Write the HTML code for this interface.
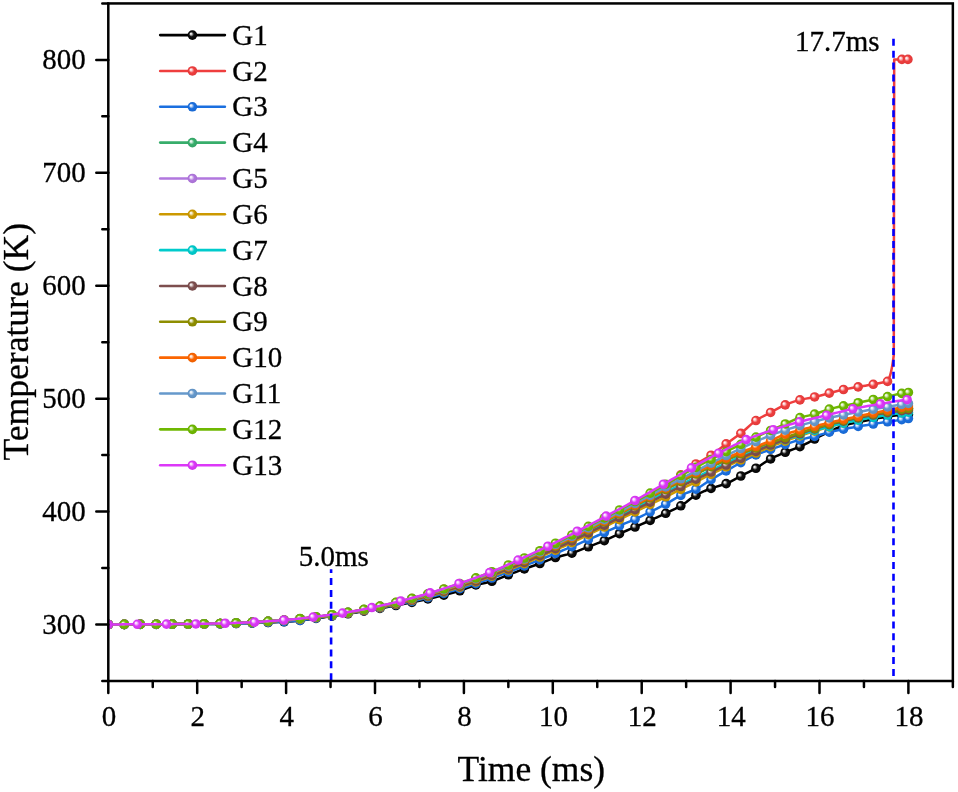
<!DOCTYPE html><html><head><meta charset="utf-8"><style>html,body{margin:0;padding:0;background:#fff;}svg{display:block;will-change:transform;}text{font-family:"Liberation Serif","Times New Roman",serif;fill:#000;stroke:#000;stroke-width:0.3px;}</style></head><body>
<svg width="958" height="792" viewBox="0 0 958 792">
<defs>
<radialGradient id="gG1" cx="0.5" cy="0.5" r="0.5" fx="0.32" fy="0.34"><stop offset="0" stop-color="#ffffff"/><stop offset="0.15" stop-color="#e0e0e0"/><stop offset="0.5" stop-color="#111"/><stop offset="1" stop-color="#000"/></radialGradient>
<circle id="mG1" r="4.8" fill="url(#gG1)"/>
<radialGradient id="gG2" cx="0.5" cy="0.5" r="0.5" fx="0.32" fy="0.34"><stop offset="0" stop-color="#ffffff"/><stop offset="0.2" stop-color="#fbd8d8"/><stop offset="0.55" stop-color="#EF3E3E"/><stop offset="1" stop-color="#e03a3a"/></radialGradient>
<circle id="mG2" r="4.8" fill="url(#gG2)"/>
<radialGradient id="gG3" cx="0.5" cy="0.5" r="0.5" fx="0.32" fy="0.34"><stop offset="0" stop-color="#ffffff"/><stop offset="0.2" stop-color="#d1e2f8"/><stop offset="0.55" stop-color="#1A6FDF"/><stop offset="1" stop-color="#1868d1"/></radialGradient>
<circle id="mG3" r="4.8" fill="url(#gG3)"/>
<radialGradient id="gG4" cx="0.5" cy="0.5" r="0.5" fx="0.32" fy="0.34"><stop offset="0" stop-color="#ffffff"/><stop offset="0.2" stop-color="#d7eee1"/><stop offset="0.55" stop-color="#37AD6B"/><stop offset="1" stop-color="#33a264"/></radialGradient>
<circle id="mG4" r="4.8" fill="url(#gG4)"/>
<radialGradient id="gG5" cx="0.5" cy="0.5" r="0.5" fx="0.32" fy="0.34"><stop offset="0" stop-color="#ffffff"/><stop offset="0.2" stop-color="#efe3f8"/><stop offset="0.55" stop-color="#B177DE"/><stop offset="1" stop-color="#a66fd0"/></radialGradient>
<circle id="mG5" r="4.8" fill="url(#gG5)"/>
<radialGradient id="gG6" cx="0.5" cy="0.5" r="0.5" fx="0.32" fy="0.34"><stop offset="0" stop-color="#ffffff"/><stop offset="0.2" stop-color="#f4eacc"/><stop offset="0.55" stop-color="#CC9900"/><stop offset="1" stop-color="#bf8f00"/></radialGradient>
<circle id="mG6" r="4.8" fill="url(#gG6)"/>
<radialGradient id="gG7" cx="0.5" cy="0.5" r="0.5" fx="0.32" fy="0.34"><stop offset="0" stop-color="#ffffff"/><stop offset="0.2" stop-color="#ccf4f4"/><stop offset="0.55" stop-color="#00CBCC"/><stop offset="1" stop-color="#00bebf"/></radialGradient>
<circle id="mG7" r="4.8" fill="url(#gG7)"/>
<radialGradient id="gG8" cx="0.5" cy="0.5" r="0.5" fx="0.32" fy="0.34"><stop offset="0" stop-color="#ffffff"/><stop offset="0.2" stop-color="#e5dbdb"/><stop offset="0.55" stop-color="#7D4E4E"/><stop offset="1" stop-color="#754949"/></radialGradient>
<circle id="mG8" r="4.8" fill="url(#gG8)"/>
<radialGradient id="gG9" cx="0.5" cy="0.5" r="0.5" fx="0.32" fy="0.34"><stop offset="0" stop-color="#ffffff"/><stop offset="0.2" stop-color="#e8e8cc"/><stop offset="0.55" stop-color="#8E8E00"/><stop offset="1" stop-color="#858500"/></radialGradient>
<circle id="mG9" r="4.8" fill="url(#gG9)"/>
<radialGradient id="gG10" cx="0.5" cy="0.5" r="0.5" fx="0.32" fy="0.34"><stop offset="0" stop-color="#ffffff"/><stop offset="0.2" stop-color="#fee0cc"/><stop offset="0.55" stop-color="#FB6501"/><stop offset="1" stop-color="#eb5e00"/></radialGradient>
<circle id="mG10" r="4.8" fill="url(#gG10)"/>
<radialGradient id="gG11" cx="0.5" cy="0.5" r="0.5" fx="0.32" fy="0.34"><stop offset="0" stop-color="#ffffff"/><stop offset="0.2" stop-color="#e0eaf4"/><stop offset="0.55" stop-color="#6699CC"/><stop offset="1" stop-color="#5f8fbf"/></radialGradient>
<circle id="mG11" r="4.8" fill="url(#gG11)"/>
<radialGradient id="gG12" cx="0.5" cy="0.5" r="0.5" fx="0.32" fy="0.34"><stop offset="0" stop-color="#ffffff"/><stop offset="0.2" stop-color="#e2f0cc"/><stop offset="0.55" stop-color="#6FB802"/><stop offset="1" stop-color="#68ac01"/></radialGradient>
<circle id="mG12" r="4.8" fill="url(#gG12)"/>
<radialGradient id="gG13" cx="0.5" cy="0.5" r="0.5" fx="0.32" fy="0.34"><stop offset="0" stop-color="#ffffff"/><stop offset="0.2" stop-color="#f8d7fd"/><stop offset="0.55" stop-color="#DC38F8"/><stop offset="1" stop-color="#ce34e9"/></radialGradient>
<circle id="mG13" r="4.8" fill="url(#gG13)"/>
<clipPath id="pc"><rect x="108.3" y="3.4" width="844.6" height="677.6"/></clipPath>
</defs>
<rect width="958" height="792" fill="#fff"/>
<g clip-path="url(#pc)" fill="none" stroke-width="2.5" stroke-linejoin="round">
<path stroke="#000000" d="M108.3 624.5 L112 624.5 L115.71 624.5 L119.41 624.49 L123.12 624.49 L126.82 624.48 L130.53 624.48 L134.23 624.47 L137.93 624.46 L141.64 624.45 L145.34 624.43 L149.05 624.42 L152.75 624.41 L156.45 624.39 L160.16 624.37 L163.86 624.36 L167.57 624.34 L171.27 624.32 L174.98 624.3 L178.68 624.28 L182.38 624.26 L186.09 624.23 L189.79 624.21 L193.5 624.19 L197.2 624.16 L200.9 624.13 L204.61 624.09 L208.31 624.05 L212.02 623.99 L215.72 623.93 L219.43 623.86 L223.13 623.79 L226.83 623.71 L230.54 623.63 L234.24 623.55 L237.95 623.46 L241.65 623.37 L245.35 623.28 L249.06 623.18 L252.76 623.07 L256.47 622.96 L260.17 622.84 L263.88 622.71 L267.58 622.57 L271.28 622.42 L274.99 622.25 L278.69 622.07 L282.4 621.88 L286.1 621.68 L289.8 621.43 L293.51 621.13 L297.21 620.77 L300.92 620.37 L304.62 619.93 L308.32 619.46 L312.03 618.97 L315.73 618.46 L319.44 617.93 L323.14 617.41 L326.85 616.88 L330.55 616.37 L334.25 615.85 L337.96 615.32 L341.66 614.77 L345.37 614.2 L349.07 613.61 L352.78 613.02 L356.48 612.41 L360.18 611.8 L363.89 611.17 L367.59 610.54 L371.3 609.9 L375 609.26 L378.7 608.61 L382.41 607.96 L386.11 607.3 L389.82 606.63 L393.52 605.95 L397.23 605.26 L400.93 604.55 L404.63 603.83 L408.34 603.1 L412.04 602.35 L415.75 601.58 L419.45 600.79 L423.15 599.98 L426.86 599.17 L430.56 598.33 L434.27 597.48 L437.97 596.61 L441.68 595.71 L445.38 594.77 L449.08 593.8 L452.79 592.8 L456.49 591.74 L460.2 590.65 L463.9 589.37 L467.6 587.94 L471.31 586.51 L475.01 585.24 L478.72 584.25 L482.42 583.44 L486.13 582.67 L489.83 581.82 L493.53 580.74 L497.24 579.39 L500.94 577.87 L504.65 576.3 L508.35 574.82 L512.05 573.42 L515.76 572.05 L519.46 570.7 L523.17 569.37 L526.87 568.06 L530.58 566.78 L534.28 565.51 L537.98 564.22 L541.69 562.85 L545.39 561.37 L549.1 559.87 L552.8 558.45 L556.5 557.22 L560.21 556.2 L563.91 555.28 L567.62 554.36 L571.32 553.32 L575.02 552.08 L578.73 550.68 L582.43 549.19 L586.14 547.69 L589.84 546.24 L593.55 544.84 L597.25 543.43 L600.95 541.99 L604.66 540.48 L608.36 538.84 L612.07 537.13 L615.77 535.4 L619.48 533.71 L623.18 532.1 L626.88 530.52 L630.59 528.96 L634.29 527.37 L638 525.76 L641.7 524.14 L645.4 522.5 L649.11 520.85 L652.81 519.19 L656.52 517.53 L660.22 515.84 L663.92 514.12 L667.63 512.36 L671.33 510.62 L675.04 508.84 L678.74 506.93 L682.45 504.8 L686.15 502.18 L689.85 499.3 L693.56 496.61 L697.26 494.47 L700.97 492.63 L704.67 490.97 L708.38 489.45 L712.08 488.06 L715.78 486.87 L719.49 485.79 L723.19 484.65 L726.9 483.27 L730.6 481.54 L734.3 479.56 L738.01 477.51 L741.71 475.55 L745.42 473.7 L749.12 471.86 L752.83 469.95 L756.53 467.91 L760.23 465.57 L763.94 463.03 L767.64 460.61 L771.35 458.55 L775.05 456.72 L778.75 455.03 L782.46 453.44 L786.16 451.89 L789.87 450.46 L793.57 449.13 L797.27 447.77 L800.98 446.25 L804.68 444.48 L808.39 442.52 L812.09 440.47 L815.8 438.43 L819.5 436.49 L823.2 434.61 L826.91 432.72 L830.61 430.9 L834.32 429.22 L838.02 427.74 L841.73 426.41 L845.43 425.2 L849.13 424.11 L852.84 423.19 L856.54 422.4 L860.25 421.7 L863.95 421.02 L867.65 420.3 L871.36 419.56 L875.06 418.83 L878.77 418.14 L882.47 417.5 L886.17 416.87 L889.88 416.28 L893.58 415.77 L897.29 415.36 L900.99 415 L904.7 414.7 L908.4 414.47"/>
<use href="#mG1" x="108.3" y="624.5"/><use href="#mG1" x="124.28" y="624.49"/><use href="#mG1" x="140.26" y="624.45"/><use href="#mG1" x="156.24" y="624.39"/><use href="#mG1" x="172.22" y="624.31"/><use href="#mG1" x="188.2" y="624.22"/><use href="#mG1" x="204.18" y="624.1"/><use href="#mG1" x="220.16" y="623.85"/><use href="#mG1" x="236.14" y="623.5"/><use href="#mG1" x="252.12" y="623.09"/><use href="#mG1" x="268.1" y="622.55"/><use href="#mG1" x="284.08" y="621.79"/><use href="#mG1" x="300.06" y="620.47"/><use href="#mG1" x="316.04" y="618.41"/><use href="#mG1" x="332.02" y="616.17"/><use href="#mG1" x="348" y="613.79"/><use href="#mG1" x="363.98" y="611.15"/><use href="#mG1" x="379.96" y="608.39"/><use href="#mG1" x="395.94" y="605.5"/><use href="#mG1" x="411.92" y="602.37"/><use href="#mG1" x="427.9" y="598.93"/><use href="#mG1" x="443.88" y="595.15"/><use href="#mG1" x="459.86" y="590.75"/><use href="#mG1" x="475.9" y="584.98"/><use href="#mG1" x="491.9" y="581.25"/><use href="#mG1" x="508.35" y="574.82"/><use href="#mG1" x="524.35" y="568.94"/><use href="#mG1" x="539.91" y="563.52"/><use href="#mG1" x="555.47" y="557.54"/><use href="#mG1" x="571.91" y="553.13"/><use href="#mG1" x="588.36" y="546.81"/><use href="#mG1" x="604.36" y="540.6"/><use href="#mG1" x="619.48" y="533.71"/><use href="#mG1" x="635.03" y="527.05"/><use href="#mG1" x="650.15" y="520.39"/><use href="#mG1" x="665.7" y="513.27"/><use href="#mG1" x="680.82" y="505.77"/><use href="#mG1" x="695.93" y="495.19"/><use href="#mG1" x="711.04" y="488.43"/><use href="#mG1" x="726.15" y="483.58"/><use href="#mG1" x="740.82" y="476.01"/><use href="#mG1" x="755.94" y="468.25"/><use href="#mG1" x="770.61" y="458.94"/><use href="#mG1" x="785.27" y="452.26"/><use href="#mG1" x="799.94" y="446.7"/><use href="#mG1" x="814.61" y="439.07"/><use href="#mG1" x="829.28" y="431.55"/><use href="#mG1" x="843.5" y="425.81"/><use href="#mG1" x="858.17" y="422.09"/><use href="#mG1" x="873.28" y="419.18"/><use href="#mG1" x="887.51" y="416.65"/><use href="#mG1" x="901.73" y="414.94"/><use href="#mG1" x="908.4" y="414.47"/>
<path stroke="#EF3E3E" d="M108.3 624.5 L112.01 624.48 L115.72 624.45 L119.43 624.43 L123.14 624.41 L126.85 624.39 L130.56 624.36 L134.27 624.34 L137.98 624.32 L141.69 624.29 L145.41 624.27 L149.12 624.24 L152.83 624.22 L156.54 624.2 L160.25 624.18 L163.96 624.16 L167.67 624.14 L171.38 624.12 L175.09 624.1 L178.8 624.08 L182.51 624.05 L186.22 624.03 L189.93 624 L193.64 623.97 L197.35 623.93 L201.06 623.88 L204.77 623.83 L208.48 623.75 L212.19 623.67 L215.9 623.58 L219.62 623.48 L223.33 623.37 L227.04 623.25 L230.75 623.13 L234.46 623 L238.17 622.87 L241.88 622.73 L245.59 622.58 L249.3 622.42 L253.01 622.23 L256.72 622.03 L260.43 621.82 L264.14 621.59 L267.85 621.35 L271.56 621.1 L275.27 620.83 L278.98 620.56 L282.69 620.27 L286.4 619.98 L290.12 619.68 L293.83 619.35 L297.54 618.99 L301.25 618.62 L304.96 618.23 L308.67 617.82 L312.38 617.39 L316.09 616.94 L319.8 616.48 L323.51 616.01 L327.22 615.52 L330.93 615.02 L334.64 614.5 L338.35 613.94 L342.06 613.36 L345.77 612.76 L349.48 612.13 L353.19 611.48 L356.9 610.81 L360.62 610.12 L364.33 609.41 L368.04 608.69 L371.75 607.96 L375.46 607.21 L379.17 606.44 L382.88 605.65 L386.59 604.83 L390.3 603.99 L394.01 603.12 L397.72 602.23 L401.43 601.32 L405.14 600.39 L408.85 599.44 L412.56 598.47 L416.27 597.49 L419.98 596.49 L423.69 595.46 L427.4 594.41 L431.11 593.33 L434.83 592.22 L438.54 591.09 L442.25 589.93 L445.96 588.75 L449.67 587.56 L453.38 586.34 L457.09 585.1 L460.8 583.85 L464.51 582.58 L468.22 581.29 L471.93 579.97 L475.64 578.63 L479.35 577.26 L483.06 575.86 L486.77 574.45 L490.48 573.01 L494.19 571.55 L497.9 570.07 L501.61 568.57 L505.33 567.05 L509.04 565.52 L512.75 563.96 L516.46 562.36 L520.17 560.74 L523.88 559.1 L527.59 557.43 L531.3 555.73 L535.01 554.02 L538.72 552.29 L542.43 550.55 L546.14 548.8 L549.85 547.03 L553.56 545.25 L557.27 543.46 L560.98 541.64 L564.69 539.79 L568.4 537.93 L572.11 536.05 L575.83 534.16 L579.54 532.25 L583.25 530.34 L586.96 528.42 L590.67 526.5 L594.38 524.58 L598.09 522.66 L601.8 520.74 L605.51 518.82 L609.22 516.91 L612.93 514.98 L616.64 513.06 L620.35 511.12 L624.06 509.16 L627.77 507.19 L631.48 505.2 L635.19 503.19 L638.9 501.15 L642.61 499.09 L646.32 497.01 L650.04 494.92 L653.75 492.8 L657.46 490.64 L661.17 488.43 L664.88 486.14 L668.59 483.77 L672.3 481.24 L676.01 478.54 L679.72 475.74 L683.43 472.91 L687.14 470.1 L690.85 467.4 L694.56 464.86 L698.27 462.57 L701.98 460.49 L705.69 458.44 L709.4 456.28 L713.11 453.82 L716.82 451.06 L720.54 448.15 L724.25 445.26 L727.96 442.52 L731.67 439.92 L735.38 437.33 L739.09 434.64 L742.8 431.73 L746.51 428.46 L750.22 425.11 L753.93 422 L757.64 419.42 L761.35 417.25 L765.06 415.29 L768.77 413.39 L772.48 411.42 L776.19 409.38 L779.9 407.39 L783.61 405.58 L787.32 404.05 L791.04 402.65 L794.75 401.39 L798.46 400.29 L802.17 399.38 L805.88 398.64 L809.59 397.97 L813.3 397.25 L817.01 396.4 L820.72 395.43 L824.43 394.43 L828.14 393.42 L831.85 392.45 L835.56 391.45 L839.27 390.49 L842.98 389.62 L846.69 388.89 L850.4 388.23 L854.11 387.6 L857.82 386.98 L861.53 386.34 L865.25 385.72 L868.96 385.1 L872.67 384.43 L876.38 383.73 L880.09 382.98 L883.8 382.2 L887.51 381.38 C889.73 378.33 891.95 370.43 893.8 355 L894.2 59.5 L907.9 59.4"/>
<use href="#mG2" x="108.3" y="624.5"/><use href="#mG2" x="124.28" y="624.4"/><use href="#mG2" x="140.26" y="624.3"/><use href="#mG2" x="156.24" y="624.2"/><use href="#mG2" x="172.22" y="624.11"/><use href="#mG2" x="188.2" y="624.01"/><use href="#mG2" x="204.18" y="623.84"/><use href="#mG2" x="220.16" y="623.46"/><use href="#mG2" x="236.14" y="622.94"/><use href="#mG2" x="252.12" y="622.28"/><use href="#mG2" x="268.1" y="621.33"/><use href="#mG2" x="284.08" y="620.17"/><use href="#mG2" x="300.06" y="618.74"/><use href="#mG2" x="316.04" y="616.95"/><use href="#mG2" x="332.02" y="614.87"/><use href="#mG2" x="348" y="612.39"/><use href="#mG2" x="363.98" y="609.48"/><use href="#mG2" x="379.96" y="606.28"/><use href="#mG2" x="395.94" y="602.66"/><use href="#mG2" x="411.92" y="598.64"/><use href="#mG2" x="427.9" y="594.27"/><use href="#mG2" x="443.88" y="589.42"/><use href="#mG2" x="459.86" y="584.17"/><use href="#mG2" x="475.9" y="578.53"/><use href="#mG2" x="491.9" y="572.45"/><use href="#mG2" x="508.35" y="565.8"/><use href="#mG2" x="524.35" y="558.88"/><use href="#mG2" x="539.91" y="551.74"/><use href="#mG2" x="555.47" y="544.33"/><use href="#mG2" x="571.91" y="536.15"/><use href="#mG2" x="588.36" y="527.69"/><use href="#mG2" x="604.36" y="519.41"/><use href="#mG2" x="619.48" y="511.58"/><use href="#mG2" x="635.03" y="503.28"/><use href="#mG2" x="650.15" y="494.86"/><use href="#mG2" x="665.7" y="485.62"/><use href="#mG2" x="680.82" y="474.9"/><use href="#mG2" x="695.93" y="463.99"/><use href="#mG2" x="711.04" y="455.23"/><use href="#mG2" x="726.15" y="443.83"/><use href="#mG2" x="740.82" y="433.33"/><use href="#mG2" x="755.94" y="420.53"/><use href="#mG2" x="770.61" y="412.44"/><use href="#mG2" x="785.27" y="404.87"/><use href="#mG2" x="799.94" y="399.9"/><use href="#mG2" x="814.61" y="396.97"/><use href="#mG2" x="829.28" y="393.13"/><use href="#mG2" x="843.5" y="389.51"/><use href="#mG2" x="858.17" y="386.92"/><use href="#mG2" x="873.28" y="384.32"/><use href="#mG2" x="887.51" y="381.38"/><use href="#mG2" x="901.9" y="59.4"/><use href="#mG2" x="907.9" y="59.4"/>
<path stroke="#1A6FDF" d="M108.3 624.5 L112 624.5 L115.71 624.5 L119.41 624.49 L123.12 624.49 L126.82 624.48 L130.53 624.48 L134.23 624.47 L137.93 624.46 L141.64 624.45 L145.34 624.43 L149.05 624.42 L152.75 624.41 L156.45 624.39 L160.16 624.37 L163.86 624.36 L167.57 624.34 L171.27 624.32 L174.98 624.3 L178.68 624.28 L182.38 624.26 L186.09 624.23 L189.79 624.21 L193.5 624.19 L197.2 624.16 L200.9 624.13 L204.61 624.1 L208.31 624.05 L212.02 624 L215.72 623.95 L219.43 623.88 L223.13 623.81 L226.83 623.73 L230.54 623.65 L234.24 623.56 L237.95 623.46 L241.65 623.35 L245.35 623.24 L249.06 623.12 L252.76 622.99 L256.47 622.86 L260.17 622.72 L263.88 622.58 L267.58 622.42 L271.28 622.27 L274.99 622.1 L278.69 621.93 L282.4 621.75 L286.1 621.56 L289.8 621.34 L293.51 621.04 L297.21 620.68 L300.92 620.26 L304.62 619.8 L308.32 619.3 L312.03 618.78 L315.73 618.23 L319.44 617.68 L323.14 617.12 L326.85 616.57 L330.55 616.03 L334.25 615.5 L337.96 614.94 L341.66 614.38 L345.37 613.79 L349.07 613.2 L352.78 612.58 L356.48 611.96 L360.18 611.33 L363.89 610.68 L367.59 610.03 L371.3 609.36 L375 608.69 L378.7 608.01 L382.41 607.32 L386.11 606.63 L389.82 605.92 L393.52 605.2 L397.23 604.46 L400.93 603.71 L404.63 602.94 L408.34 602.15 L412.04 601.34 L415.75 600.51 L419.45 599.66 L423.15 598.78 L426.86 597.87 L430.56 596.93 L434.27 595.97 L437.97 594.98 L441.68 593.97 L445.38 592.93 L449.08 591.88 L452.79 590.8 L456.49 589.7 L460.2 588.59 L463.9 587.46 L467.6 586.31 L471.31 585.12 L475.01 583.9 L478.72 582.65 L482.42 581.37 L486.13 580.08 L489.83 578.76 L493.53 577.43 L497.24 576.08 L500.94 574.72 L504.65 573.36 L508.35 571.99 L512.05 570.61 L515.76 569.21 L519.46 567.79 L523.17 566.36 L526.87 564.91 L530.58 563.44 L534.28 561.97 L537.98 560.48 L541.69 558.99 L545.39 557.49 L549.1 555.99 L552.8 554.49 L556.5 552.98 L560.21 551.47 L563.91 549.95 L567.62 548.43 L571.32 546.89 L575.02 545.34 L578.73 543.78 L582.43 542.21 L586.14 540.63 L589.84 539.03 L593.55 537.41 L597.25 535.76 L600.95 534.08 L604.66 532.4 L608.36 530.71 L612.07 529.03 L615.77 527.38 L619.48 525.76 L623.18 524.2 L626.88 522.67 L630.59 521.12 L634.29 519.5 L638 517.81 L641.7 516.05 L645.4 514.25 L649.11 512.43 L652.81 510.63 L656.52 508.81 L660.22 506.97 L663.92 505.06 L667.63 503.03 L671.33 500.83 L675.04 498.59 L678.74 496.49 L682.45 494.68 L686.15 493.16 L689.85 491.73 L693.56 490.22 L697.26 488.41 L700.97 486.22 L704.67 483.81 L708.38 481.36 L712.08 479.04 L715.78 476.85 L719.49 474.69 L723.19 472.56 L726.9 470.45 L730.6 468.33 L734.3 466.22 L738.01 464.14 L741.71 462.13 L745.42 460.17 L749.12 458.22 L752.83 456.37 L756.53 454.68 L760.23 453.18 L763.94 451.82 L767.64 450.52 L771.35 449.21 L775.05 447.9 L778.75 446.6 L782.46 445.34 L786.16 444.1 L789.87 442.85 L793.57 441.64 L797.27 440.5 L800.98 439.49 L804.68 438.63 L808.39 437.82 L812.09 436.99 L815.8 436.06 L819.5 434.98 L823.2 433.87 L826.91 432.81 L830.61 431.88 L834.32 431.04 L838.02 430.25 L841.73 429.5 L845.43 428.77 L849.13 428.08 L852.84 427.41 L856.54 426.76 L860.25 426.12 L863.95 425.51 L867.65 424.9 L871.36 424.31 L875.06 423.71 L878.77 423.11 L882.47 422.52 L886.17 421.94 L889.88 421.4 L893.58 420.89 L897.29 420.37 L900.99 419.82 L904.7 419.2 L908.4 418.53"/>
<use href="#mG3" x="108.3" y="624.5"/><use href="#mG3" x="124.28" y="624.49"/><use href="#mG3" x="140.26" y="624.45"/><use href="#mG3" x="156.24" y="624.39"/><use href="#mG3" x="172.22" y="624.31"/><use href="#mG3" x="188.2" y="624.22"/><use href="#mG3" x="204.18" y="624.1"/><use href="#mG3" x="220.16" y="623.87"/><use href="#mG3" x="236.14" y="623.51"/><use href="#mG3" x="252.12" y="623.02"/><use href="#mG3" x="268.1" y="622.4"/><use href="#mG3" x="284.08" y="621.67"/><use href="#mG3" x="300.06" y="620.36"/><use href="#mG3" x="316.04" y="618.19"/><use href="#mG3" x="332.02" y="615.82"/><use href="#mG3" x="348" y="613.37"/><use href="#mG3" x="363.98" y="610.67"/><use href="#mG3" x="379.96" y="607.78"/><use href="#mG3" x="395.94" y="604.72"/><use href="#mG3" x="411.92" y="601.37"/><use href="#mG3" x="427.9" y="597.61"/><use href="#mG3" x="443.88" y="593.36"/><use href="#mG3" x="459.86" y="588.69"/><use href="#mG3" x="475.9" y="583.6"/><use href="#mG3" x="491.9" y="578.01"/><use href="#mG3" x="508.35" y="571.99"/><use href="#mG3" x="524.35" y="565.89"/><use href="#mG3" x="539.91" y="559.71"/><use href="#mG3" x="555.47" y="553.41"/><use href="#mG3" x="571.91" y="546.64"/><use href="#mG3" x="588.36" y="539.68"/><use href="#mG3" x="604.36" y="532.53"/><use href="#mG3" x="619.48" y="525.76"/><use href="#mG3" x="635.03" y="519.17"/><use href="#mG3" x="650.15" y="511.93"/><use href="#mG3" x="665.7" y="504.11"/><use href="#mG3" x="680.82" y="495.43"/><use href="#mG3" x="695.93" y="489.11"/><use href="#mG3" x="711.04" y="479.67"/><use href="#mG3" x="726.15" y="470.87"/><use href="#mG3" x="740.82" y="462.61"/><use href="#mG3" x="755.94" y="454.94"/><use href="#mG3" x="770.61" y="449.47"/><use href="#mG3" x="785.27" y="444.39"/><use href="#mG3" x="799.94" y="439.76"/><use href="#mG3" x="814.61" y="436.37"/><use href="#mG3" x="829.28" y="432.2"/><use href="#mG3" x="843.5" y="429.15"/><use href="#mG3" x="858.17" y="426.47"/><use href="#mG3" x="873.28" y="424"/><use href="#mG3" x="887.51" y="421.74"/><use href="#mG3" x="901.73" y="419.7"/><use href="#mG3" x="908.4" y="418.53"/>
<path stroke="#37AD6B" d="M108.3 624.5 L112 624.48 L115.71 624.46 L119.41 624.43 L123.12 624.41 L126.82 624.39 L130.53 624.37 L134.23 624.34 L137.93 624.32 L141.64 624.3 L145.34 624.27 L149.05 624.25 L152.75 624.23 L156.45 624.21 L160.16 624.19 L163.86 624.17 L167.57 624.15 L171.27 624.13 L174.98 624.11 L178.68 624.09 L182.38 624.06 L186.09 624.04 L189.79 624.01 L193.5 623.98 L197.2 623.94 L200.9 623.9 L204.61 623.84 L208.31 623.77 L212.02 623.7 L215.72 623.61 L219.43 623.51 L223.13 623.4 L226.83 623.29 L230.54 623.17 L234.24 623.04 L237.95 622.91 L241.65 622.78 L245.35 622.64 L249.06 622.47 L252.76 622.3 L256.47 622.1 L260.17 621.89 L263.88 621.67 L267.58 621.44 L271.28 621.19 L274.99 620.93 L278.69 620.67 L282.4 620.39 L286.1 620.11 L289.8 619.81 L293.51 619.49 L297.21 619.15 L300.92 618.79 L304.62 618.4 L308.32 618 L312.03 617.59 L315.73 617.15 L319.44 616.71 L323.14 616.24 L326.85 615.77 L330.55 615.28 L334.25 614.78 L337.96 614.24 L341.66 613.68 L345.37 613.09 L349.07 612.48 L352.78 611.85 L356.48 611.2 L360.18 610.52 L363.89 609.84 L367.59 609.13 L371.3 608.42 L375 607.69 L378.7 606.95 L382.41 606.18 L386.11 605.38 L389.82 604.56 L393.52 603.72 L397.23 602.85 L400.93 601.97 L404.63 601.06 L408.34 600.14 L412.04 599.19 L415.75 598.24 L419.45 597.26 L423.15 596.27 L426.86 595.24 L430.56 594.19 L434.27 593.11 L437.97 592.01 L441.68 590.89 L445.38 589.74 L449.08 588.58 L452.79 587.39 L456.49 586.19 L460.2 584.97 L463.9 583.73 L467.6 582.48 L471.31 581.2 L475.01 579.89 L478.72 578.56 L482.42 577.2 L486.13 575.82 L489.83 574.42 L493.53 573 L497.24 571.56 L500.94 570.1 L504.65 568.62 L508.35 567.13 L512.05 565.61 L515.76 564.06 L519.46 562.49 L523.17 560.89 L526.87 559.26 L530.58 557.61 L534.28 555.95 L537.98 554.26 L541.69 552.56 L545.39 550.85 L549.1 549.13 L552.8 547.4 L556.5 545.65 L560.21 543.88 L563.91 542.09 L567.62 540.27 L571.32 538.44 L575.02 536.6 L578.73 534.74 L582.43 532.88 L586.14 531.01 L589.84 529.13 L593.55 527.26 L597.25 525.38 L600.95 523.5 L604.66 521.62 L608.36 519.72 L612.07 517.82 L615.77 515.91 L619.48 514 L623.18 512.08 L626.88 510.16 L630.59 508.23 L634.29 506.29 L638 504.36 L641.7 502.42 L645.4 500.47 L649.11 498.49 L652.81 496.49 L656.52 494.48 L660.22 492.46 L663.92 490.45 L667.63 488.45 L671.33 486.46 L675.04 484.5 L678.74 482.57 L682.45 480.68 L686.15 478.83 L689.85 477.02 L693.56 475.23 L697.26 473.45 L700.97 471.7 L704.67 469.96 L708.38 468.25 L712.08 466.56 L715.78 464.9 L719.49 463.26 L723.19 461.65 L726.9 460.06 L730.6 458.51 L734.3 456.98 L738.01 455.48 L741.71 454 L745.42 452.54 L749.12 451.11 L752.83 449.69 L756.53 448.3 L760.23 446.92 L763.94 445.56 L767.64 444.22 L771.35 442.89 L775.05 441.57 L778.75 440.26 L782.46 438.96 L786.16 437.66 L789.87 436.38 L793.57 435.11 L797.27 433.86 L800.98 432.63 L804.68 431.42 L808.39 430.24 L812.09 429.09 L815.8 427.97 L819.5 426.89 L823.2 425.83 L826.91 424.78 L830.61 423.75 L834.32 422.73 L838.02 421.73 L841.73 420.76 L845.43 419.81 L849.13 418.9 L852.84 418.02 L856.54 417.17 L860.25 416.36 L863.95 415.6 L867.65 414.86 L871.36 414.15 L875.06 413.45 L878.77 412.77 L882.47 412.12 L886.17 411.49 L889.88 410.88 L893.58 410.3 L897.29 409.74 L900.99 409.22 L904.7 408.72 L908.4 408.26"/>
<use href="#mG4" x="108.3" y="624.5"/><use href="#mG4" x="124.28" y="624.4"/><use href="#mG4" x="140.26" y="624.31"/><use href="#mG4" x="156.24" y="624.21"/><use href="#mG4" x="172.22" y="624.12"/><use href="#mG4" x="188.2" y="624.02"/><use href="#mG4" x="204.18" y="623.85"/><use href="#mG4" x="220.16" y="623.49"/><use href="#mG4" x="236.14" y="622.98"/><use href="#mG4" x="252.12" y="622.33"/><use href="#mG4" x="268.1" y="621.4"/><use href="#mG4" x="284.08" y="620.27"/><use href="#mG4" x="300.06" y="618.87"/><use href="#mG4" x="316.04" y="617.12"/><use href="#mG4" x="332.02" y="615.09"/><use href="#mG4" x="348" y="612.66"/><use href="#mG4" x="363.98" y="609.82"/><use href="#mG4" x="379.96" y="606.69"/><use href="#mG4" x="395.94" y="603.15"/><use href="#mG4" x="411.92" y="599.23"/><use href="#mG4" x="427.9" y="594.95"/><use href="#mG4" x="443.88" y="590.21"/><use href="#mG4" x="459.86" y="585.08"/><use href="#mG4" x="475.9" y="579.57"/><use href="#mG4" x="491.9" y="573.63"/><use href="#mG4" x="508.35" y="567.13"/><use href="#mG4" x="524.35" y="560.37"/><use href="#mG4" x="539.91" y="553.38"/><use href="#mG4" x="555.47" y="546.15"/><use href="#mG4" x="571.91" y="538.15"/><use href="#mG4" x="588.36" y="529.88"/><use href="#mG4" x="604.36" y="521.77"/><use href="#mG4" x="619.48" y="514"/><use href="#mG4" x="635.03" y="505.91"/><use href="#mG4" x="650.15" y="497.93"/><use href="#mG4" x="665.7" y="489.49"/><use href="#mG4" x="680.82" y="481.5"/><use href="#mG4" x="695.93" y="474.09"/><use href="#mG4" x="711.04" y="467.03"/><use href="#mG4" x="726.15" y="460.38"/><use href="#mG4" x="740.82" y="454.35"/><use href="#mG4" x="755.94" y="448.52"/><use href="#mG4" x="770.61" y="443.15"/><use href="#mG4" x="785.27" y="437.97"/><use href="#mG4" x="799.94" y="432.97"/><use href="#mG4" x="814.61" y="428.33"/><use href="#mG4" x="829.28" y="424.12"/><use href="#mG4" x="843.5" y="420.3"/><use href="#mG4" x="858.17" y="416.81"/><use href="#mG4" x="873.28" y="413.78"/><use href="#mG4" x="887.51" y="411.26"/><use href="#mG4" x="901.73" y="409.12"/><use href="#mG4" x="908.4" y="408.26"/>
<path stroke="#B177DE" d="M108.3 624.5 L112 624.48 L115.71 624.46 L119.41 624.43 L123.12 624.41 L126.82 624.39 L130.53 624.37 L134.23 624.34 L137.93 624.32 L141.64 624.3 L145.34 624.28 L149.05 624.25 L152.75 624.23 L156.45 624.21 L160.16 624.19 L163.86 624.17 L167.57 624.15 L171.27 624.13 L174.98 624.11 L178.68 624.09 L182.38 624.07 L186.09 624.05 L189.79 624.02 L193.5 623.99 L197.2 623.95 L200.9 623.91 L204.61 623.85 L208.31 623.78 L212.02 623.71 L215.72 623.62 L219.43 623.52 L223.13 623.42 L226.83 623.31 L230.54 623.19 L234.24 623.06 L237.95 622.94 L241.65 622.8 L245.35 622.66 L249.06 622.5 L252.76 622.33 L256.47 622.13 L260.17 621.93 L263.88 621.71 L267.58 621.48 L271.28 621.24 L274.99 620.98 L278.69 620.72 L282.4 620.45 L286.1 620.17 L289.8 619.88 L293.51 619.56 L297.21 619.22 L300.92 618.87 L304.62 618.49 L308.32 618.09 L312.03 617.68 L315.73 617.26 L319.44 616.81 L323.14 616.36 L326.85 615.89 L330.55 615.41 L334.25 614.91 L337.96 614.38 L341.66 613.83 L345.37 613.25 L349.07 612.65 L352.78 612.02 L356.48 611.38 L360.18 610.72 L363.89 610.04 L367.59 609.35 L371.3 608.64 L375 607.93 L378.7 607.19 L382.41 606.43 L386.11 605.64 L389.82 604.84 L393.52 604 L397.23 603.15 L400.93 602.28 L404.63 601.39 L408.34 600.47 L412.04 599.55 L415.75 598.6 L419.45 597.64 L423.15 596.66 L426.86 595.65 L430.56 594.61 L434.27 593.55 L437.97 592.46 L441.68 591.36 L445.38 590.23 L449.08 589.08 L452.79 587.91 L456.49 586.72 L460.2 585.52 L463.9 584.3 L467.6 583.06 L471.31 581.8 L475.01 580.51 L478.72 579.19 L482.42 577.86 L486.13 576.5 L489.83 575.12 L493.53 573.72 L497.24 572.3 L500.94 570.86 L504.65 569.4 L508.35 567.93 L512.05 566.43 L515.76 564.9 L519.46 563.35 L523.17 561.77 L526.87 560.16 L530.58 558.54 L534.28 556.9 L537.98 555.24 L541.69 553.56 L545.39 551.88 L549.1 550.18 L552.8 548.47 L556.5 546.75 L560.21 545 L563.91 543.23 L567.62 541.44 L571.32 539.64 L575.02 537.82 L578.73 535.99 L582.43 534.15 L586.14 532.3 L589.84 530.46 L593.55 528.6 L597.25 526.76 L600.95 524.9 L604.66 523.03 L608.36 521.14 L612.07 519.25 L615.77 517.35 L619.48 515.45 L623.18 513.54 L626.88 511.64 L630.59 509.74 L634.29 507.86 L638 505.98 L641.7 504.12 L645.4 502.26 L649.11 500.41 L652.81 498.57 L656.52 496.72 L660.22 494.89 L663.92 493.06 L667.63 491.23 L671.33 489.42 L675.04 487.6 L678.74 485.8 L682.45 484.01 L686.15 482.22 L689.85 480.44 L693.56 478.65 L697.26 476.87 L700.97 475.1 L704.67 473.33 L708.38 471.57 L712.08 469.82 L715.78 468.08 L719.49 466.36 L723.19 464.66 L726.9 462.98 L730.6 461.33 L734.3 459.69 L738.01 458.06 L741.71 456.44 L745.42 454.82 L749.12 453.23 L752.83 451.65 L756.53 450.09 L760.23 448.55 L763.94 447.04 L767.64 445.56 L771.35 444.11 L775.05 442.7 L778.75 441.3 L782.46 439.92 L786.16 438.55 L789.87 437.2 L793.57 435.86 L797.27 434.55 L800.98 433.28 L804.68 432.03 L808.39 430.82 L812.09 429.65 L815.8 428.53 L819.5 427.45 L823.2 426.42 L826.91 425.41 L830.61 424.43 L834.32 423.48 L838.02 422.56 L841.73 421.65 L845.43 420.78 L849.13 419.92 L852.84 419.09 L856.54 418.28 L860.25 417.5 L863.95 416.73 L867.65 415.98 L871.36 415.24 L875.06 414.52 L878.77 413.81 L882.47 413.12 L886.17 412.45 L889.88 411.79 L893.58 411.16 L897.29 410.54 L900.99 409.95 L904.7 409.38 L908.4 408.82"/>
<use href="#mG5" x="108.3" y="624.5"/><use href="#mG5" x="124.28" y="624.4"/><use href="#mG5" x="140.26" y="624.31"/><use href="#mG5" x="156.24" y="624.21"/><use href="#mG5" x="172.22" y="624.13"/><use href="#mG5" x="188.2" y="624.03"/><use href="#mG5" x="204.18" y="623.86"/><use href="#mG5" x="220.16" y="623.5"/><use href="#mG5" x="236.14" y="623"/><use href="#mG5" x="252.12" y="622.36"/><use href="#mG5" x="268.1" y="621.45"/><use href="#mG5" x="284.08" y="620.32"/><use href="#mG5" x="300.06" y="618.95"/><use href="#mG5" x="316.04" y="617.22"/><use href="#mG5" x="332.02" y="615.22"/><use href="#mG5" x="348" y="612.82"/><use href="#mG5" x="363.98" y="610.02"/><use href="#mG5" x="379.96" y="606.94"/><use href="#mG5" x="395.94" y="603.45"/><use href="#mG5" x="411.92" y="599.58"/><use href="#mG5" x="427.9" y="595.36"/><use href="#mG5" x="443.88" y="590.69"/><use href="#mG5" x="459.86" y="585.63"/><use href="#mG5" x="475.9" y="580.19"/><use href="#mG5" x="491.9" y="574.34"/><use href="#mG5" x="508.35" y="567.93"/><use href="#mG5" x="524.35" y="561.26"/><use href="#mG5" x="539.91" y="554.37"/><use href="#mG5" x="555.47" y="547.23"/><use href="#mG5" x="571.91" y="539.35"/><use href="#mG5" x="588.36" y="531.2"/><use href="#mG5" x="604.36" y="523.18"/><use href="#mG5" x="619.48" y="515.45"/><use href="#mG5" x="635.03" y="507.48"/><use href="#mG5" x="650.15" y="499.89"/><use href="#mG5" x="665.7" y="492.18"/><use href="#mG5" x="680.82" y="484.8"/><use href="#mG5" x="695.93" y="477.51"/><use href="#mG5" x="711.04" y="470.3"/><use href="#mG5" x="726.15" y="463.32"/><use href="#mG5" x="740.82" y="456.82"/><use href="#mG5" x="755.94" y="450.34"/><use href="#mG5" x="770.61" y="444.4"/><use href="#mG5" x="785.27" y="438.88"/><use href="#mG5" x="799.94" y="433.63"/><use href="#mG5" x="814.61" y="428.88"/><use href="#mG5" x="829.28" y="424.78"/><use href="#mG5" x="843.5" y="421.23"/><use href="#mG5" x="858.17" y="417.93"/><use href="#mG5" x="873.28" y="414.86"/><use href="#mG5" x="887.51" y="412.21"/><use href="#mG5" x="901.73" y="409.83"/><use href="#mG5" x="908.4" y="408.82"/>
<path stroke="#CC9900" d="M108.3 624.5 L112 624.48 L115.71 624.46 L119.41 624.44 L123.12 624.41 L126.82 624.39 L130.53 624.37 L134.23 624.35 L137.93 624.33 L141.64 624.31 L145.34 624.29 L149.05 624.26 L152.75 624.24 L156.45 624.22 L160.16 624.2 L163.86 624.18 L167.57 624.16 L171.27 624.15 L174.98 624.13 L178.68 624.11 L182.38 624.09 L186.09 624.06 L189.79 624.04 L193.5 624.01 L197.2 623.97 L200.9 623.93 L204.61 623.88 L208.31 623.81 L212.02 623.74 L215.72 623.65 L219.43 623.56 L223.13 623.46 L226.83 623.35 L230.54 623.24 L234.24 623.12 L237.95 622.99 L241.65 622.87 L245.35 622.73 L249.06 622.58 L252.76 622.41 L256.47 622.22 L260.17 622.03 L263.88 621.82 L267.58 621.59 L271.28 621.36 L274.99 621.12 L278.69 620.86 L282.4 620.6 L286.1 620.33 L289.8 620.05 L293.51 619.75 L297.21 619.42 L300.92 619.08 L304.62 618.71 L308.32 618.33 L312.03 617.94 L315.73 617.53 L319.44 617.1 L323.14 616.66 L326.85 616.21 L330.55 615.75 L334.25 615.27 L337.96 614.76 L341.66 614.23 L345.37 613.67 L349.07 613.09 L352.78 612.49 L356.48 611.87 L360.18 611.24 L363.89 610.58 L367.59 609.92 L371.3 609.24 L375 608.55 L378.7 607.84 L382.41 607.11 L386.11 606.35 L389.82 605.57 L393.52 604.77 L397.23 603.95 L400.93 603.11 L404.63 602.25 L408.34 601.38 L412.04 600.48 L415.75 599.57 L419.45 598.65 L423.15 597.7 L426.86 596.73 L430.56 595.73 L434.27 594.71 L437.97 593.67 L441.68 592.6 L445.38 591.51 L449.08 590.4 L452.79 589.28 L456.49 588.14 L460.2 586.98 L463.9 585.81 L467.6 584.62 L471.31 583.4 L475.01 582.16 L478.72 580.89 L482.42 579.61 L486.13 578.3 L489.83 576.97 L493.53 575.62 L497.24 574.25 L500.94 572.87 L504.65 571.47 L508.35 570.05 L512.05 568.61 L515.76 567.14 L519.46 565.64 L523.17 564.12 L526.87 562.58 L530.58 561.02 L534.28 559.43 L537.98 557.84 L541.69 556.22 L545.39 554.6 L549.1 552.97 L552.8 551.32 L556.5 549.66 L560.21 547.98 L563.91 546.28 L567.62 544.56 L571.32 542.82 L575.02 541.07 L578.73 539.31 L582.43 537.54 L586.14 535.76 L589.84 533.98 L593.55 532.2 L597.25 530.42 L600.95 528.64 L604.66 526.85 L608.36 525.04 L612.07 523.23 L615.77 521.41 L619.48 519.59 L623.18 517.76 L626.88 515.94 L630.59 514.11 L634.29 512.28 L638 510.45 L641.7 508.63 L645.4 506.81 L649.11 504.99 L652.81 503.17 L656.52 501.35 L660.22 499.52 L663.92 497.7 L667.63 495.87 L671.33 494.05 L675.04 492.22 L678.74 490.4 L682.45 488.57 L686.15 486.74 L689.85 484.9 L693.56 483.05 L697.26 481.19 L700.97 479.32 L704.67 477.45 L708.38 475.59 L712.08 473.73 L715.78 471.89 L719.49 470.06 L723.19 468.25 L726.9 466.47 L730.6 464.72 L734.3 462.98 L738.01 461.24 L741.71 459.51 L745.42 457.78 L749.12 456.07 L752.83 454.39 L756.53 452.72 L760.23 451.09 L763.94 449.49 L767.64 447.93 L771.35 446.42 L775.05 444.96 L778.75 443.53 L782.46 442.14 L786.16 440.76 L789.87 439.42 L793.57 438.1 L797.27 436.81 L800.98 435.54 L804.68 434.31 L808.39 433.11 L812.09 431.95 L815.8 430.81 L819.5 429.71 L823.2 428.64 L826.91 427.6 L830.61 426.58 L834.32 425.58 L838.02 424.61 L841.73 423.66 L845.43 422.73 L849.13 421.82 L852.84 420.94 L856.54 420.08 L860.25 419.24 L863.95 418.42 L867.65 417.62 L871.36 416.84 L875.06 416.07 L878.77 415.31 L882.47 414.58 L886.17 413.86 L889.88 413.16 L893.58 412.48 L897.29 411.81 L900.99 411.17 L904.7 410.55 L908.4 409.95"/>
<use href="#mG6" x="108.3" y="624.5"/><use href="#mG6" x="124.28" y="624.41"/><use href="#mG6" x="140.26" y="624.32"/><use href="#mG6" x="156.24" y="624.22"/><use href="#mG6" x="172.22" y="624.14"/><use href="#mG6" x="188.2" y="624.05"/><use href="#mG6" x="204.18" y="623.88"/><use href="#mG6" x="220.16" y="623.54"/><use href="#mG6" x="236.14" y="623.05"/><use href="#mG6" x="252.12" y="622.44"/><use href="#mG6" x="268.1" y="621.56"/><use href="#mG6" x="284.08" y="620.48"/><use href="#mG6" x="300.06" y="619.16"/><use href="#mG6" x="316.04" y="617.49"/><use href="#mG6" x="332.02" y="615.56"/><use href="#mG6" x="348" y="613.26"/><use href="#mG6" x="363.98" y="610.57"/><use href="#mG6" x="379.96" y="607.59"/><use href="#mG6" x="395.94" y="604.24"/><use href="#mG6" x="411.92" y="600.51"/><use href="#mG6" x="427.9" y="596.45"/><use href="#mG6" x="443.88" y="591.96"/><use href="#mG6" x="459.86" y="587.09"/><use href="#mG6" x="475.9" y="581.86"/><use href="#mG6" x="491.9" y="576.22"/><use href="#mG6" x="508.35" y="570.05"/><use href="#mG6" x="524.35" y="563.63"/><use href="#mG6" x="539.91" y="557"/><use href="#mG6" x="555.47" y="550.13"/><use href="#mG6" x="571.91" y="542.54"/><use href="#mG6" x="588.36" y="534.7"/><use href="#mG6" x="604.36" y="526.99"/><use href="#mG6" x="619.48" y="519.59"/><use href="#mG6" x="635.03" y="511.91"/><use href="#mG6" x="650.15" y="504.48"/><use href="#mG6" x="665.7" y="496.82"/><use href="#mG6" x="680.82" y="489.37"/><use href="#mG6" x="695.93" y="481.86"/><use href="#mG6" x="711.04" y="474.25"/><use href="#mG6" x="726.15" y="466.82"/><use href="#mG6" x="740.82" y="459.92"/><use href="#mG6" x="755.94" y="452.99"/><use href="#mG6" x="770.61" y="446.72"/><use href="#mG6" x="785.27" y="441.09"/><use href="#mG6" x="799.94" y="435.89"/><use href="#mG6" x="814.61" y="431.17"/><use href="#mG6" x="829.28" y="426.94"/><use href="#mG6" x="843.5" y="423.21"/><use href="#mG6" x="858.17" y="419.71"/><use href="#mG6" x="873.28" y="416.43"/><use href="#mG6" x="887.51" y="413.6"/><use href="#mG6" x="901.73" y="411.05"/><use href="#mG6" x="908.4" y="409.95"/>
<path stroke="#00CBCC" d="M108.3 624.5 L112 624.48 L115.71 624.46 L119.41 624.43 L123.12 624.41 L126.82 624.39 L130.53 624.37 L134.23 624.35 L137.93 624.32 L141.64 624.3 L145.34 624.28 L149.05 624.26 L152.75 624.23 L156.45 624.21 L160.16 624.19 L163.86 624.17 L167.57 624.15 L171.27 624.13 L174.98 624.12 L178.68 624.1 L182.38 624.07 L186.09 624.05 L189.79 624.02 L193.5 623.99 L197.2 623.95 L200.9 623.91 L204.61 623.86 L208.31 623.79 L212.02 623.71 L215.72 623.62 L219.43 623.53 L223.13 623.42 L226.83 623.31 L230.54 623.19 L234.24 623.07 L237.95 622.94 L241.65 622.81 L245.35 622.67 L249.06 622.51 L252.76 622.34 L256.47 622.15 L260.17 621.94 L263.88 621.72 L267.58 621.49 L271.28 621.25 L274.99 621 L278.69 620.74 L282.4 620.47 L286.1 620.19 L289.8 619.9 L293.51 619.58 L297.21 619.25 L300.92 618.89 L304.62 618.52 L308.32 618.12 L312.03 617.71 L315.73 617.29 L319.44 616.85 L323.14 616.4 L326.85 615.93 L330.55 615.45 L334.25 614.96 L337.96 614.43 L341.66 613.88 L345.37 613.3 L349.07 612.7 L352.78 612.08 L356.48 611.44 L360.18 610.78 L363.89 610.11 L367.59 609.42 L371.3 608.72 L375 608 L378.7 607.27 L382.41 606.51 L386.11 605.73 L389.82 604.93 L393.52 604.1 L397.23 603.25 L400.93 602.38 L404.63 601.49 L408.34 600.59 L412.04 599.66 L415.75 598.72 L419.45 597.77 L423.15 596.79 L426.86 595.78 L430.56 594.75 L434.27 593.69 L437.97 592.61 L441.68 591.51 L445.38 590.39 L449.08 589.24 L452.79 588.08 L456.49 586.9 L460.2 585.7 L463.9 584.49 L467.6 583.26 L471.31 582 L475.01 580.71 L478.72 579.41 L482.42 578.08 L486.13 576.72 L489.83 575.35 L493.53 573.95 L497.24 572.54 L500.94 571.11 L504.65 569.66 L508.35 568.19 L512.05 566.7 L515.76 565.18 L519.46 563.63 L523.17 562.06 L526.87 560.47 L530.58 558.85 L534.28 557.21 L537.98 555.56 L541.69 553.9 L545.39 552.22 L549.1 550.53 L552.8 548.83 L556.5 547.11 L560.21 545.37 L563.91 543.61 L567.62 541.83 L571.32 540.04 L575.02 538.23 L578.73 536.4 L582.43 534.57 L586.14 532.74 L589.84 530.9 L593.55 529.05 L597.25 527.21 L600.95 525.37 L604.66 523.51 L608.36 521.65 L612.07 519.77 L615.77 517.89 L619.48 516 L623.18 514.11 L626.88 512.22 L630.59 510.33 L634.29 508.44 L638 506.56 L641.7 504.68 L645.4 502.8 L649.11 500.91 L652.81 499.02 L656.52 497.13 L660.22 495.23 L663.92 493.34 L667.63 491.46 L671.33 489.58 L675.04 487.72 L678.74 485.87 L682.45 484.04 L686.15 482.22 L689.85 480.42 L693.56 478.62 L697.26 476.82 L700.97 475.03 L704.67 473.26 L708.38 471.49 L712.08 469.74 L715.78 468.01 L719.49 466.3 L723.19 464.62 L726.9 462.96 L730.6 461.33 L734.3 459.72 L738.01 458.12 L741.71 456.53 L745.42 454.95 L749.12 453.39 L752.83 451.86 L756.53 450.34 L760.23 448.86 L763.94 447.41 L767.64 445.99 L771.35 444.61 L775.05 443.26 L778.75 441.95 L782.46 440.66 L786.16 439.38 L789.87 438.13 L793.57 436.9 L797.27 435.7 L800.98 434.53 L804.68 433.38 L808.39 432.27 L812.09 431.19 L815.8 430.15 L819.5 429.15 L823.2 428.17 L826.91 427.22 L830.61 426.28 L834.32 425.37 L838.02 424.47 L841.73 423.61 L845.43 422.76 L849.13 421.95 L852.84 421.16 L856.54 420.41 L860.25 419.68 L863.95 418.99 L867.65 418.32 L871.36 417.66 L875.06 417.02 L878.77 416.4 L882.47 415.8 L886.17 415.22 L889.88 414.66 L893.58 414.12 L897.29 413.6 L900.99 413.11 L904.7 412.65 L908.4 412.21"/>
<use href="#mG7" x="108.3" y="624.5"/><use href="#mG7" x="124.28" y="624.41"/><use href="#mG7" x="140.26" y="624.31"/><use href="#mG7" x="156.24" y="624.21"/><use href="#mG7" x="172.22" y="624.13"/><use href="#mG7" x="188.2" y="624.03"/><use href="#mG7" x="204.18" y="623.86"/><use href="#mG7" x="220.16" y="623.51"/><use href="#mG7" x="236.14" y="623.01"/><use href="#mG7" x="252.12" y="622.37"/><use href="#mG7" x="268.1" y="621.46"/><use href="#mG7" x="284.08" y="620.34"/><use href="#mG7" x="300.06" y="618.98"/><use href="#mG7" x="316.04" y="617.25"/><use href="#mG7" x="332.02" y="615.26"/><use href="#mG7" x="348" y="612.88"/><use href="#mG7" x="363.98" y="610.09"/><use href="#mG7" x="379.96" y="607.02"/><use href="#mG7" x="395.94" y="603.55"/><use href="#mG7" x="411.92" y="599.69"/><use href="#mG7" x="427.9" y="595.5"/><use href="#mG7" x="443.88" y="590.85"/><use href="#mG7" x="459.86" y="585.81"/><use href="#mG7" x="475.9" y="580.4"/><use href="#mG7" x="491.9" y="574.57"/><use href="#mG7" x="508.35" y="568.19"/><use href="#mG7" x="524.35" y="561.55"/><use href="#mG7" x="539.91" y="554.7"/><use href="#mG7" x="555.47" y="547.59"/><use href="#mG7" x="571.91" y="539.75"/><use href="#mG7" x="588.36" y="531.63"/><use href="#mG7" x="604.36" y="523.66"/><use href="#mG7" x="619.48" y="516"/><use href="#mG7" x="635.03" y="508.06"/><use href="#mG7" x="650.15" y="500.38"/><use href="#mG7" x="665.7" y="492.44"/><use href="#mG7" x="680.82" y="484.84"/><use href="#mG7" x="695.93" y="477.47"/><use href="#mG7" x="711.04" y="470.23"/><use href="#mG7" x="726.15" y="463.29"/><use href="#mG7" x="740.82" y="456.91"/><use href="#mG7" x="755.94" y="450.58"/><use href="#mG7" x="770.61" y="444.88"/><use href="#mG7" x="785.27" y="439.69"/><use href="#mG7" x="799.94" y="434.85"/><use href="#mG7" x="814.61" y="430.48"/><use href="#mG7" x="829.28" y="426.61"/><use href="#mG7" x="843.5" y="423.2"/><use href="#mG7" x="858.17" y="420.08"/><use href="#mG7" x="873.28" y="417.33"/><use href="#mG7" x="887.51" y="415.01"/><use href="#mG7" x="901.73" y="413.02"/><use href="#mG7" x="908.4" y="412.21"/>
<path stroke="#7D4E4E" d="M108.3 624.5 L112 624.48 L115.71 624.46 L119.41 624.44 L123.12 624.41 L126.82 624.39 L130.53 624.37 L134.23 624.35 L137.93 624.33 L141.64 624.3 L145.34 624.28 L149.05 624.26 L152.75 624.24 L156.45 624.22 L160.16 624.2 L163.86 624.18 L167.57 624.16 L171.27 624.14 L174.98 624.12 L178.68 624.1 L182.38 624.08 L186.09 624.05 L189.79 624.03 L193.5 624 L197.2 623.96 L200.9 623.92 L204.61 623.86 L208.31 623.8 L212.02 623.72 L215.72 623.64 L219.43 623.54 L223.13 623.44 L226.83 623.33 L230.54 623.21 L234.24 623.09 L237.95 622.96 L241.65 622.84 L245.35 622.7 L249.06 622.54 L252.76 622.37 L256.47 622.18 L260.17 621.98 L263.88 621.76 L267.58 621.54 L271.28 621.3 L274.99 621.05 L278.69 620.79 L282.4 620.53 L286.1 620.25 L289.8 619.96 L293.51 619.65 L297.21 619.32 L300.92 618.97 L304.62 618.6 L308.32 618.21 L312.03 617.81 L315.73 617.39 L319.44 616.96 L323.14 616.51 L326.85 616.05 L330.55 615.58 L334.25 615.09 L337.96 614.57 L341.66 614.03 L345.37 613.46 L349.07 612.87 L352.78 612.26 L356.48 611.63 L360.18 610.98 L363.89 610.31 L367.59 609.63 L371.3 608.94 L375 608.24 L378.7 607.51 L382.41 606.77 L386.11 606 L389.82 605.2 L393.52 604.39 L397.23 603.55 L400.93 602.69 L404.63 601.82 L408.34 600.92 L412.04 600.01 L415.75 599.09 L419.45 598.14 L423.15 597.18 L426.86 596.19 L430.56 595.17 L434.27 594.13 L437.97 593.06 L441.68 591.98 L445.38 590.87 L449.08 589.74 L452.79 588.59 L456.49 587.43 L460.2 586.25 L463.9 585.05 L467.6 583.84 L471.31 582.6 L475.01 581.33 L478.72 580.04 L482.42 578.73 L486.13 577.4 L489.83 576.04 L493.53 574.67 L497.24 573.28 L500.94 571.86 L504.65 570.43 L508.35 568.99 L512.05 567.52 L515.76 566.02 L519.46 564.49 L523.17 562.94 L526.87 561.37 L530.58 559.78 L534.28 558.17 L537.98 556.54 L541.69 554.89 L545.39 553.24 L549.1 551.57 L552.8 549.9 L556.5 548.21 L560.21 546.49 L563.91 544.76 L567.62 543 L571.32 541.23 L575.02 539.45 L578.73 537.65 L582.43 535.84 L586.14 534.03 L589.84 532.22 L593.55 530.4 L597.25 528.59 L600.95 526.77 L604.66 524.94 L608.36 523.11 L612.07 521.26 L615.77 519.41 L619.48 517.55 L623.18 515.69 L626.88 513.83 L630.59 511.97 L634.29 510.1 L638 508.24 L641.7 506.37 L645.4 504.51 L649.11 502.63 L652.81 500.74 L656.52 498.85 L660.22 496.95 L663.92 495.06 L667.63 493.17 L671.33 491.29 L675.04 489.42 L678.74 487.57 L682.45 485.73 L686.15 483.91 L689.85 482.12 L693.56 480.33 L697.26 478.56 L700.97 476.8 L704.67 475.04 L708.38 473.3 L712.08 471.57 L715.78 469.85 L719.49 468.13 L723.19 466.42 L726.9 464.72 L730.6 463.02 L734.3 461.33 L738.01 459.62 L741.71 457.9 L745.42 456.19 L749.12 454.49 L752.83 452.8 L756.53 451.13 L760.23 449.48 L763.94 447.87 L767.64 446.29 L771.35 444.75 L775.05 443.26 L778.75 441.8 L782.46 440.36 L786.16 438.92 L789.87 437.51 L793.57 436.12 L797.27 434.76 L800.98 433.43 L804.68 432.15 L808.39 430.9 L812.09 429.7 L815.8 428.55 L819.5 427.45 L823.2 426.4 L826.91 425.37 L830.61 424.37 L834.32 423.4 L838.02 422.45 L841.73 421.53 L845.43 420.65 L849.13 419.79 L852.84 418.97 L856.54 418.19 L860.25 417.44 L863.95 416.73 L867.65 416.04 L871.36 415.38 L875.06 414.73 L878.77 414.1 L882.47 413.49 L886.17 412.9 L889.88 412.34 L893.58 411.8 L897.29 411.3 L900.99 410.82 L904.7 410.37 L908.4 409.95"/>
<use href="#mG8" x="108.3" y="624.5"/><use href="#mG8" x="124.28" y="624.41"/><use href="#mG8" x="140.26" y="624.31"/><use href="#mG8" x="156.24" y="624.22"/><use href="#mG8" x="172.22" y="624.14"/><use href="#mG8" x="188.2" y="624.04"/><use href="#mG8" x="204.18" y="623.87"/><use href="#mG8" x="220.16" y="623.52"/><use href="#mG8" x="236.14" y="623.03"/><use href="#mG8" x="252.12" y="622.4"/><use href="#mG8" x="268.1" y="621.5"/><use href="#mG8" x="284.08" y="620.4"/><use href="#mG8" x="300.06" y="619.05"/><use href="#mG8" x="316.04" y="617.36"/><use href="#mG8" x="332.02" y="615.39"/><use href="#mG8" x="348" y="613.04"/><use href="#mG8" x="363.98" y="610.3"/><use href="#mG8" x="379.96" y="607.27"/><use href="#mG8" x="395.94" y="603.85"/><use href="#mG8" x="411.92" y="600.04"/><use href="#mG8" x="427.9" y="595.91"/><use href="#mG8" x="443.88" y="591.32"/><use href="#mG8" x="459.86" y="586.36"/><use href="#mG8" x="475.9" y="581.03"/><use href="#mG8" x="491.9" y="575.28"/><use href="#mG8" x="508.35" y="568.99"/><use href="#mG8" x="524.35" y="562.44"/><use href="#mG8" x="539.91" y="555.68"/><use href="#mG8" x="555.47" y="548.68"/><use href="#mG8" x="571.91" y="540.95"/><use href="#mG8" x="588.36" y="532.95"/><use href="#mG8" x="604.36" y="525.09"/><use href="#mG8" x="619.48" y="517.55"/><use href="#mG8" x="635.03" y="509.73"/><use href="#mG8" x="650.15" y="502.1"/><use href="#mG8" x="665.7" y="494.15"/><use href="#mG8" x="680.82" y="486.54"/><use href="#mG8" x="695.93" y="479.2"/><use href="#mG8" x="711.04" y="472.05"/><use href="#mG8" x="726.15" y="465.06"/><use href="#mG8" x="740.82" y="458.32"/><use href="#mG8" x="755.94" y="451.4"/><use href="#mG8" x="770.61" y="445.06"/><use href="#mG8" x="785.27" y="439.26"/><use href="#mG8" x="799.94" y="433.8"/><use href="#mG8" x="814.61" y="428.91"/><use href="#mG8" x="829.28" y="424.73"/><use href="#mG8" x="843.5" y="421.1"/><use href="#mG8" x="858.17" y="417.85"/><use href="#mG8" x="873.28" y="415.04"/><use href="#mG8" x="887.51" y="412.7"/><use href="#mG8" x="901.73" y="410.72"/><use href="#mG8" x="908.4" y="409.95"/>
<path stroke="#8E8E00" d="M108.3 624.5 L112 624.48 L115.71 624.46 L119.41 624.43 L123.12 624.41 L126.82 624.39 L130.53 624.37 L134.23 624.34 L137.93 624.32 L141.64 624.3 L145.34 624.27 L149.05 624.25 L152.75 624.23 L156.45 624.21 L160.16 624.19 L163.86 624.17 L167.57 624.15 L171.27 624.13 L174.98 624.11 L178.68 624.09 L182.38 624.06 L186.09 624.04 L189.79 624.01 L193.5 623.98 L197.2 623.94 L200.9 623.9 L204.61 623.84 L208.31 623.77 L212.02 623.7 L215.72 623.61 L219.43 623.51 L223.13 623.4 L226.83 623.29 L230.54 623.17 L234.24 623.04 L237.95 622.91 L241.65 622.78 L245.35 622.64 L249.06 622.47 L252.76 622.3 L256.47 622.1 L260.17 621.89 L263.88 621.67 L267.58 621.44 L271.28 621.19 L274.99 620.93 L278.69 620.67 L282.4 620.39 L286.1 620.11 L289.8 619.81 L293.51 619.49 L297.21 619.15 L300.92 618.79 L304.62 618.4 L308.32 618 L312.03 617.59 L315.73 617.15 L319.44 616.71 L323.14 616.24 L326.85 615.77 L330.55 615.28 L334.25 614.78 L337.96 614.24 L341.66 613.68 L345.37 613.09 L349.07 612.48 L352.78 611.85 L356.48 611.2 L360.18 610.52 L363.89 609.84 L367.59 609.13 L371.3 608.42 L375 607.69 L378.7 606.95 L382.41 606.18 L386.11 605.38 L389.82 604.56 L393.52 603.72 L397.23 602.85 L400.93 601.97 L404.63 601.06 L408.34 600.14 L412.04 599.19 L415.75 598.24 L419.45 597.26 L423.15 596.27 L426.86 595.24 L430.56 594.19 L434.27 593.11 L437.97 592.01 L441.68 590.89 L445.38 589.74 L449.08 588.58 L452.79 587.39 L456.49 586.19 L460.2 584.97 L463.9 583.73 L467.6 582.48 L471.31 581.2 L475.01 579.89 L478.72 578.56 L482.42 577.2 L486.13 575.82 L489.83 574.42 L493.53 573 L497.24 571.56 L500.94 570.1 L504.65 568.62 L508.35 567.13 L512.05 565.61 L515.76 564.06 L519.46 562.49 L523.17 560.89 L526.87 559.26 L530.58 557.61 L534.28 555.95 L537.98 554.26 L541.69 552.56 L545.39 550.85 L549.1 549.13 L552.8 547.4 L556.5 545.65 L560.21 543.88 L563.91 542.09 L567.62 540.27 L571.32 538.44 L575.02 536.6 L578.73 534.74 L582.43 532.88 L586.14 531.01 L589.84 529.13 L593.55 527.26 L597.25 525.38 L600.95 523.5 L604.66 521.62 L608.36 519.72 L612.07 517.82 L615.77 515.91 L619.48 514 L623.18 512.08 L626.88 510.16 L630.59 508.23 L634.29 506.29 L638 504.36 L641.7 502.42 L645.4 500.47 L649.11 498.49 L652.81 496.5 L656.52 494.5 L660.22 492.49 L663.92 490.49 L667.63 488.49 L671.33 486.51 L675.04 484.54 L678.74 482.61 L682.45 480.7 L686.15 478.83 L689.85 476.99 L693.56 475.15 L697.26 473.33 L700.97 471.52 L704.67 469.73 L708.38 467.96 L712.08 466.21 L715.78 464.49 L719.49 462.8 L723.19 461.14 L726.9 459.52 L730.6 457.94 L734.3 456.4 L738.01 454.88 L741.71 453.39 L745.42 451.92 L749.12 450.48 L752.83 449.06 L756.53 447.66 L760.23 446.29 L763.94 444.94 L767.64 443.61 L771.35 442.3 L775.05 441 L778.75 439.73 L782.46 438.46 L786.16 437.22 L789.87 435.98 L793.57 434.77 L797.27 433.57 L800.98 432.4 L804.68 431.25 L808.39 430.12 L812.09 429.01 L815.8 427.94 L819.5 426.89 L823.2 425.86 L826.91 424.84 L830.61 423.84 L834.32 422.85 L838.02 421.88 L841.73 420.93 L845.43 420 L849.13 419.11 L852.84 418.24 L856.54 417.4 L860.25 416.59 L863.95 415.82 L867.65 415.08 L871.36 414.36 L875.06 413.65 L878.77 412.96 L882.47 412.29 L886.17 411.64 L889.88 411.02 L893.58 410.42 L897.29 409.84 L900.99 409.28 L904.7 408.76 L908.4 408.26"/>
<use href="#mG9" x="108.3" y="624.5"/><use href="#mG9" x="124.28" y="624.4"/><use href="#mG9" x="140.26" y="624.31"/><use href="#mG9" x="156.24" y="624.21"/><use href="#mG9" x="172.22" y="624.12"/><use href="#mG9" x="188.2" y="624.02"/><use href="#mG9" x="204.18" y="623.85"/><use href="#mG9" x="220.16" y="623.49"/><use href="#mG9" x="236.14" y="622.98"/><use href="#mG9" x="252.12" y="622.33"/><use href="#mG9" x="268.1" y="621.4"/><use href="#mG9" x="284.08" y="620.27"/><use href="#mG9" x="300.06" y="618.87"/><use href="#mG9" x="316.04" y="617.12"/><use href="#mG9" x="332.02" y="615.09"/><use href="#mG9" x="348" y="612.66"/><use href="#mG9" x="363.98" y="609.82"/><use href="#mG9" x="379.96" y="606.69"/><use href="#mG9" x="395.94" y="603.15"/><use href="#mG9" x="411.92" y="599.23"/><use href="#mG9" x="427.9" y="594.95"/><use href="#mG9" x="443.88" y="590.21"/><use href="#mG9" x="459.86" y="585.08"/><use href="#mG9" x="475.9" y="579.57"/><use href="#mG9" x="491.9" y="573.63"/><use href="#mG9" x="508.35" y="567.13"/><use href="#mG9" x="524.35" y="560.37"/><use href="#mG9" x="539.91" y="553.38"/><use href="#mG9" x="555.47" y="546.15"/><use href="#mG9" x="571.91" y="538.15"/><use href="#mG9" x="588.36" y="529.88"/><use href="#mG9" x="604.36" y="521.77"/><use href="#mG9" x="619.48" y="514"/><use href="#mG9" x="635.03" y="505.91"/><use href="#mG9" x="650.15" y="497.94"/><use href="#mG9" x="665.7" y="489.53"/><use href="#mG9" x="680.82" y="481.53"/><use href="#mG9" x="695.93" y="473.99"/><use href="#mG9" x="711.04" y="466.7"/><use href="#mG9" x="726.15" y="459.84"/><use href="#mG9" x="740.82" y="453.74"/><use href="#mG9" x="755.94" y="447.89"/><use href="#mG9" x="770.61" y="442.56"/><use href="#mG9" x="785.27" y="437.51"/><use href="#mG9" x="799.94" y="432.73"/><use href="#mG9" x="814.61" y="428.28"/><use href="#mG9" x="829.28" y="424.2"/><use href="#mG9" x="843.5" y="420.48"/><use href="#mG9" x="858.17" y="417.04"/><use href="#mG9" x="873.28" y="413.99"/><use href="#mG9" x="887.51" y="411.42"/><use href="#mG9" x="901.73" y="409.18"/><use href="#mG9" x="908.4" y="408.26"/>
<path stroke="#FB6501" d="M108.3 624.5 L112 624.48 L115.71 624.45 L119.41 624.43 L123.12 624.41 L126.82 624.39 L130.53 624.36 L134.23 624.34 L137.93 624.32 L141.64 624.29 L145.34 624.27 L149.05 624.25 L152.75 624.23 L156.45 624.2 L160.16 624.18 L163.86 624.16 L167.57 624.14 L171.27 624.12 L174.98 624.1 L178.68 624.08 L182.38 624.06 L186.09 624.04 L189.79 624.01 L193.5 623.98 L197.2 623.94 L200.9 623.89 L204.61 623.84 L208.31 623.77 L212.02 623.69 L215.72 623.6 L219.43 623.5 L223.13 623.39 L226.83 623.28 L230.54 623.16 L234.24 623.03 L237.95 622.9 L241.65 622.76 L245.35 622.62 L249.06 622.45 L252.76 622.28 L256.47 622.08 L260.17 621.87 L263.88 621.65 L267.58 621.41 L271.28 621.16 L274.99 620.9 L278.69 620.63 L282.4 620.35 L286.1 620.07 L289.8 619.77 L293.51 619.44 L297.21 619.1 L300.92 618.73 L304.62 618.35 L308.32 617.94 L312.03 617.52 L315.73 617.09 L319.44 616.63 L323.14 616.17 L326.85 615.69 L330.55 615.2 L334.25 614.69 L337.96 614.15 L341.66 613.58 L345.37 612.99 L349.07 612.37 L352.78 611.73 L356.48 611.07 L360.18 610.4 L363.89 609.7 L367.59 608.99 L371.3 608.27 L375 607.54 L378.7 606.78 L382.41 606.01 L386.11 605.2 L389.82 604.37 L393.52 603.52 L397.23 602.65 L400.93 601.76 L404.63 600.84 L408.34 599.91 L412.04 598.96 L415.75 597.99 L419.45 597.01 L423.15 596 L426.86 594.97 L430.56 593.91 L434.27 592.82 L437.97 591.71 L441.68 590.58 L445.38 589.42 L449.08 588.24 L452.79 587.05 L456.49 585.83 L460.2 584.6 L463.9 583.36 L467.6 582.09 L471.31 580.8 L475.01 579.48 L478.72 578.13 L482.42 576.76 L486.13 575.37 L489.83 573.96 L493.53 572.53 L497.24 571.07 L500.94 569.6 L504.65 568.11 L508.35 566.6 L512.05 565.07 L515.76 563.5 L519.46 561.91 L523.17 560.3 L526.87 558.66 L530.58 556.99 L534.28 555.31 L537.98 553.61 L541.69 551.9 L545.39 550.17 L549.1 548.43 L552.8 546.69 L556.5 544.92 L560.21 543.14 L563.91 541.33 L567.62 539.49 L571.32 537.65 L575.02 535.79 L578.73 533.91 L582.43 532.03 L586.14 530.14 L589.84 528.25 L593.55 526.36 L597.25 524.46 L600.95 522.57 L604.66 520.67 L608.36 518.76 L612.07 516.85 L615.77 514.93 L619.48 513 L623.18 511.06 L626.88 509.12 L630.59 507.18 L634.29 505.22 L638 503.26 L641.7 501.29 L645.4 499.3 L649.11 497.28 L652.81 495.24 L656.52 493.19 L660.22 491.12 L663.92 489.06 L667.63 487.01 L671.33 484.97 L675.04 482.96 L678.74 480.97 L682.45 479.03 L686.15 477.14 L689.85 475.28 L693.56 473.43 L697.26 471.61 L700.97 469.8 L704.67 468.01 L708.38 466.25 L712.08 464.51 L715.78 462.79 L719.49 461.11 L723.19 459.46 L726.9 457.84 L730.6 456.25 L734.3 454.72 L738.01 453.24 L741.71 451.82 L745.42 450.42 L749.12 449.05 L752.83 447.68 L756.53 446.3 L760.23 444.9 L763.94 443.47 L767.64 441.98 L771.35 440.41 L775.05 438.67 L778.75 436.89 L782.46 435.25 L786.16 433.89 L789.87 432.75 L793.57 431.73 L797.27 430.75 L800.98 429.77 L804.68 428.79 L808.39 427.84 L812.09 426.9 L815.8 425.97 L819.5 425.07 L823.2 424.17 L826.91 423.29 L830.61 422.42 L834.32 421.56 L838.02 420.71 L841.73 419.87 L845.43 419.05 L849.13 418.23 L852.84 417.42 L856.54 416.62 L860.25 415.82 L863.95 415.03 L867.65 414.25 L871.36 413.47 L875.06 412.69 L878.77 411.93 L882.47 411.16 L886.17 410.41 L889.88 409.65 L893.58 408.91 L897.29 408.17 L900.99 407.44 L904.7 406.72 L908.4 406"/>
<use href="#mG10" x="108.3" y="624.5"/><use href="#mG10" x="124.28" y="624.4"/><use href="#mG10" x="140.26" y="624.3"/><use href="#mG10" x="156.24" y="624.2"/><use href="#mG10" x="172.22" y="624.12"/><use href="#mG10" x="188.2" y="624.02"/><use href="#mG10" x="204.18" y="623.84"/><use href="#mG10" x="220.16" y="623.48"/><use href="#mG10" x="236.14" y="622.96"/><use href="#mG10" x="252.12" y="622.31"/><use href="#mG10" x="268.1" y="621.37"/><use href="#mG10" x="284.08" y="620.23"/><use href="#mG10" x="300.06" y="618.82"/><use href="#mG10" x="316.04" y="617.05"/><use href="#mG10" x="332.02" y="615"/><use href="#mG10" x="348" y="612.55"/><use href="#mG10" x="363.98" y="609.68"/><use href="#mG10" x="379.96" y="606.52"/><use href="#mG10" x="395.94" y="602.96"/><use href="#mG10" x="411.92" y="598.99"/><use href="#mG10" x="427.9" y="594.68"/><use href="#mG10" x="443.88" y="589.89"/><use href="#mG10" x="459.86" y="584.72"/><use href="#mG10" x="475.9" y="579.16"/><use href="#mG10" x="491.9" y="573.16"/><use href="#mG10" x="508.35" y="566.6"/><use href="#mG10" x="524.35" y="559.77"/><use href="#mG10" x="539.91" y="552.72"/><use href="#mG10" x="555.47" y="545.42"/><use href="#mG10" x="571.91" y="537.35"/><use href="#mG10" x="588.36" y="529.01"/><use href="#mG10" x="604.36" y="520.82"/><use href="#mG10" x="619.48" y="513"/><use href="#mG10" x="635.03" y="504.83"/><use href="#mG10" x="650.15" y="496.71"/><use href="#mG10" x="665.7" y="488.07"/><use href="#mG10" x="680.82" y="479.88"/><use href="#mG10" x="695.93" y="472.26"/><use href="#mG10" x="711.04" y="464.99"/><use href="#mG10" x="726.15" y="458.16"/><use href="#mG10" x="740.82" y="452.16"/><use href="#mG10" x="755.94" y="446.52"/><use href="#mG10" x="770.61" y="440.74"/><use href="#mG10" x="785.27" y="434.19"/><use href="#mG10" x="799.94" y="430.05"/><use href="#mG10" x="814.61" y="426.27"/><use href="#mG10" x="829.28" y="422.73"/><use href="#mG10" x="843.5" y="419.48"/><use href="#mG10" x="858.17" y="416.27"/><use href="#mG10" x="873.28" y="413.06"/><use href="#mG10" x="887.51" y="410.13"/><use href="#mG10" x="901.73" y="407.3"/><use href="#mG10" x="908.4" y="406"/>
<path stroke="#6699CC" d="M108.3 624.5 L112 624.48 L115.71 624.45 L119.41 624.43 L123.12 624.41 L126.82 624.39 L130.53 624.36 L134.23 624.34 L137.93 624.32 L141.64 624.29 L145.34 624.27 L149.05 624.25 L152.75 624.22 L156.45 624.2 L160.16 624.18 L163.86 624.16 L167.57 624.14 L171.27 624.12 L174.98 624.1 L178.68 624.08 L182.38 624.06 L186.09 624.03 L189.79 624 L193.5 623.97 L197.2 623.93 L200.9 623.89 L204.61 623.83 L208.31 623.76 L212.02 623.68 L215.72 623.59 L219.43 623.49 L223.13 623.38 L226.83 623.26 L230.54 623.14 L234.24 623.01 L237.95 622.88 L241.65 622.74 L245.35 622.6 L249.06 622.43 L252.76 622.25 L256.47 622.05 L260.17 621.84 L263.88 621.61 L267.58 621.37 L271.28 621.12 L274.99 620.86 L278.69 620.59 L282.4 620.31 L286.1 620.02 L289.8 619.72 L293.51 619.39 L297.21 619.04 L300.92 618.67 L304.62 618.28 L308.32 617.87 L312.03 617.45 L315.73 617 L319.44 616.55 L323.14 616.08 L326.85 615.59 L330.55 615.1 L334.25 614.58 L337.96 614.03 L341.66 613.46 L345.37 612.86 L349.07 612.24 L352.78 611.59 L356.48 610.92 L360.18 610.24 L363.89 609.54 L367.59 608.82 L371.3 608.09 L375 607.35 L378.7 606.59 L382.41 605.8 L386.11 604.99 L389.82 604.15 L393.52 603.29 L397.23 602.41 L400.93 601.51 L404.63 600.58 L408.34 599.64 L412.04 598.68 L415.75 597.7 L419.45 596.71 L423.15 595.69 L426.86 594.65 L430.56 593.57 L434.27 592.48 L437.97 591.35 L441.68 590.21 L445.38 589.04 L449.08 587.85 L452.79 586.64 L456.49 585.41 L460.2 584.16 L463.9 582.9 L467.6 581.62 L471.31 580.31 L475.01 578.98 L478.72 577.62 L482.42 576.24 L486.13 574.83 L489.83 573.4 L493.53 571.95 L497.24 570.48 L500.94 568.99 L504.65 567.49 L508.35 565.96 L512.05 564.41 L515.76 562.83 L519.46 561.23 L523.17 559.59 L526.87 557.93 L530.58 556.25 L534.28 554.55 L537.98 552.83 L541.69 551.1 L545.39 549.36 L549.1 547.6 L552.8 545.83 L556.5 544.05 L560.21 542.24 L563.91 540.41 L567.62 538.56 L571.32 536.69 L575.02 534.81 L578.73 532.92 L582.43 531.01 L586.14 529.1 L589.84 527.19 L593.55 525.28 L597.25 523.36 L600.95 521.45 L604.66 519.52 L608.36 517.59 L612.07 515.65 L615.77 513.7 L619.48 511.74 L623.18 509.78 L626.88 507.82 L630.59 505.85 L634.29 503.88 L638 501.91 L641.7 499.94 L645.4 497.96 L649.11 495.96 L652.81 493.96 L656.52 491.95 L660.22 489.93 L663.92 487.92 L667.63 485.91 L671.33 483.9 L675.04 481.91 L678.74 479.92 L682.45 477.96 L686.15 476.01 L689.85 474.07 L693.56 472.14 L697.26 470.2 L700.97 468.27 L704.67 466.36 L708.38 464.45 L712.08 462.56 L715.78 460.68 L719.49 458.83 L723.19 457 L726.9 455.2 L730.6 453.43 L734.3 451.66 L738.01 449.9 L741.71 448.13 L745.42 446.38 L749.12 444.64 L752.83 442.93 L756.53 441.26 L760.23 439.62 L763.94 438.04 L767.64 436.51 L771.35 435.05 L775.05 433.67 L778.75 432.34 L782.46 431.05 L786.16 429.81 L789.87 428.61 L793.57 427.44 L797.27 426.31 L800.98 425.21 L804.68 424.15 L808.39 423.12 L812.09 422.12 L815.8 421.15 L819.5 420.22 L823.2 419.32 L826.91 418.45 L830.61 417.61 L834.32 416.79 L838.02 416 L841.73 415.22 L845.43 414.46 L849.13 413.73 L852.84 413.01 L856.54 412.32 L860.25 411.64 L863.95 410.97 L867.65 410.31 L871.36 409.65 L875.06 408.99 L878.77 408.34 L882.47 407.7 L886.17 407.06 L889.88 406.44 L893.58 405.81 L897.29 405.2 L900.99 404.59 L904.7 403.99 L908.4 403.4"/>
<use href="#mG11" x="108.3" y="624.5"/><use href="#mG11" x="124.28" y="624.4"/><use href="#mG11" x="140.26" y="624.3"/><use href="#mG11" x="156.24" y="624.2"/><use href="#mG11" x="172.22" y="624.12"/><use href="#mG11" x="188.2" y="624.01"/><use href="#mG11" x="204.18" y="623.84"/><use href="#mG11" x="220.16" y="623.47"/><use href="#mG11" x="236.14" y="622.95"/><use href="#mG11" x="252.12" y="622.28"/><use href="#mG11" x="268.1" y="621.34"/><use href="#mG11" x="284.08" y="620.18"/><use href="#mG11" x="300.06" y="618.76"/><use href="#mG11" x="316.04" y="616.97"/><use href="#mG11" x="332.02" y="614.89"/><use href="#mG11" x="348" y="612.42"/><use href="#mG11" x="363.98" y="609.52"/><use href="#mG11" x="379.96" y="606.33"/><use href="#mG11" x="395.94" y="602.72"/><use href="#mG11" x="411.92" y="598.71"/><use href="#mG11" x="427.9" y="594.35"/><use href="#mG11" x="443.88" y="589.51"/><use href="#mG11" x="459.86" y="584.28"/><use href="#mG11" x="475.9" y="578.66"/><use href="#mG11" x="491.9" y="572.59"/><use href="#mG11" x="508.35" y="565.96"/><use href="#mG11" x="524.35" y="559.06"/><use href="#mG11" x="539.91" y="551.93"/><use href="#mG11" x="555.47" y="544.55"/><use href="#mG11" x="571.91" y="536.39"/><use href="#mG11" x="588.36" y="527.96"/><use href="#mG11" x="604.36" y="519.68"/><use href="#mG11" x="619.48" y="511.74"/><use href="#mG11" x="635.03" y="503.49"/><use href="#mG11" x="650.15" y="495.4"/><use href="#mG11" x="665.7" y="486.95"/><use href="#mG11" x="680.82" y="478.82"/><use href="#mG11" x="695.93" y="470.9"/><use href="#mG11" x="711.04" y="463.08"/><use href="#mG11" x="726.15" y="455.56"/><use href="#mG11" x="740.82" y="448.56"/><use href="#mG11" x="755.94" y="441.52"/><use href="#mG11" x="770.61" y="435.34"/><use href="#mG11" x="785.27" y="430.11"/><use href="#mG11" x="799.94" y="425.52"/><use href="#mG11" x="814.61" y="421.46"/><use href="#mG11" x="829.28" y="417.91"/><use href="#mG11" x="843.5" y="414.85"/><use href="#mG11" x="858.17" y="412.02"/><use href="#mG11" x="873.28" y="409.31"/><use href="#mG11" x="887.51" y="406.84"/><use href="#mG11" x="901.73" y="404.47"/><use href="#mG11" x="908.4" y="403.4"/>
<path stroke="#6FB802" d="M108.3 624.5 L112 624.48 L115.71 624.45 L119.41 624.43 L123.12 624.41 L126.82 624.38 L130.53 624.36 L134.23 624.34 L137.93 624.31 L141.64 624.29 L145.34 624.27 L149.05 624.24 L152.75 624.22 L156.45 624.19 L160.16 624.17 L163.86 624.15 L167.57 624.13 L171.27 624.11 L174.98 624.09 L178.68 624.07 L182.38 624.05 L186.09 624.02 L189.79 623.99 L193.5 623.96 L197.2 623.92 L200.9 623.88 L204.61 623.82 L208.31 623.75 L212.02 623.67 L215.72 623.57 L219.43 623.47 L223.13 623.36 L226.83 623.24 L230.54 623.12 L234.24 622.99 L237.95 622.85 L241.65 622.72 L245.35 622.57 L249.06 622.4 L252.76 622.21 L256.47 622.01 L260.17 621.8 L263.88 621.57 L267.58 621.32 L271.28 621.07 L274.99 620.8 L278.69 620.53 L282.4 620.24 L286.1 619.95 L289.8 619.64 L293.51 619.31 L297.21 618.95 L300.92 618.57 L304.62 618.18 L308.32 617.76 L312.03 617.33 L315.73 616.88 L319.44 616.42 L323.14 615.94 L326.85 615.45 L330.55 614.94 L334.25 614.42 L337.96 613.86 L341.66 613.28 L345.37 612.67 L349.07 612.04 L352.78 611.38 L356.48 610.7 L360.18 610.01 L363.89 609.29 L367.59 608.57 L371.3 607.82 L375 607.07 L378.7 606.3 L382.41 605.5 L386.11 604.67 L389.82 603.82 L393.52 602.95 L397.23 602.05 L400.93 601.13 L404.63 600.19 L408.34 599.23 L412.04 598.26 L415.75 597.26 L419.45 596.25 L423.15 595.22 L426.86 594.16 L430.56 593.07 L434.27 591.95 L437.97 590.81 L441.68 589.65 L445.38 588.46 L449.08 587.25 L452.79 586.02 L456.49 584.77 L460.2 583.51 L463.9 582.23 L467.6 580.92 L471.31 579.59 L475.01 578.24 L478.72 576.86 L482.42 575.45 L486.13 574.02 L489.83 572.57 L493.53 571.1 L497.24 569.6 L500.94 568.09 L504.65 566.56 L508.35 565.01 L512.05 563.43 L515.76 561.83 L519.46 560.19 L523.17 558.53 L526.87 556.85 L530.58 555.14 L534.28 553.41 L537.98 551.66 L541.69 549.9 L545.39 548.13 L549.1 546.34 L552.8 544.55 L556.5 542.74 L560.21 540.9 L563.91 539.04 L567.62 537.16 L571.32 535.26 L575.02 533.35 L578.73 531.42 L582.43 529.49 L586.14 527.55 L589.84 525.6 L593.55 523.66 L597.25 521.71 L600.95 519.77 L604.66 517.82 L608.36 515.86 L612.07 513.9 L615.77 511.94 L619.48 509.96 L623.18 507.98 L626.88 505.98 L630.59 503.98 L634.29 501.97 L638 499.94 L641.7 497.9 L645.4 495.84 L649.11 493.75 L652.81 491.64 L656.52 489.51 L660.22 487.37 L663.92 485.22 L667.63 483.08 L671.33 480.94 L675.04 478.82 L678.74 476.72 L682.45 474.66 L686.15 472.62 L689.85 470.62 L693.56 468.63 L697.26 466.65 L700.97 464.69 L704.67 462.75 L708.38 460.82 L712.08 458.9 L715.78 456.99 L719.49 455.1 L723.19 453.21 L726.9 451.34 L730.6 449.47 L734.3 447.62 L738.01 445.78 L741.71 443.95 L745.42 442.14 L749.12 440.35 L752.83 438.58 L756.53 436.83 L760.23 435.12 L763.94 433.42 L767.64 431.75 L771.35 430.1 L775.05 428.46 L778.75 426.83 L782.46 425.2 L786.16 423.56 L789.87 421.81 L793.57 420.07 L797.27 418.51 L800.98 417.31 L804.68 416.4 L808.39 415.61 L812.09 414.78 L815.8 413.76 L819.5 412.48 L823.2 411.12 L826.91 409.85 L830.61 408.8 L834.32 407.9 L838.02 407.08 L841.73 406.28 L845.43 405.46 L849.13 404.66 L852.84 403.86 L856.54 403.07 L860.25 402.28 L863.95 401.48 L867.65 400.69 L871.36 399.9 L875.06 399.12 L878.77 398.36 L882.47 397.59 L886.17 396.82 L889.88 395.99 L893.58 395.11 L897.29 394.25 L900.99 393.52 L904.7 392.93 L908.4 392.45"/>
<use href="#mG12" x="108.3" y="624.5"/><use href="#mG12" x="124.28" y="624.4"/><use href="#mG12" x="140.26" y="624.3"/><use href="#mG12" x="156.24" y="624.2"/><use href="#mG12" x="172.22" y="624.11"/><use href="#mG12" x="188.2" y="624.01"/><use href="#mG12" x="204.18" y="623.83"/><use href="#mG12" x="220.16" y="623.45"/><use href="#mG12" x="236.14" y="622.92"/><use href="#mG12" x="252.12" y="622.25"/><use href="#mG12" x="268.1" y="621.29"/><use href="#mG12" x="284.08" y="620.11"/><use href="#mG12" x="300.06" y="618.66"/><use href="#mG12" x="316.04" y="616.84"/><use href="#mG12" x="332.02" y="614.74"/><use href="#mG12" x="348" y="612.22"/><use href="#mG12" x="363.98" y="609.28"/><use href="#mG12" x="379.96" y="606.03"/><use href="#mG12" x="395.94" y="602.36"/><use href="#mG12" x="411.92" y="598.29"/><use href="#mG12" x="427.9" y="593.86"/><use href="#mG12" x="443.88" y="588.94"/><use href="#mG12" x="459.86" y="583.62"/><use href="#mG12" x="475.9" y="577.91"/><use href="#mG12" x="491.9" y="571.75"/><use href="#mG12" x="508.35" y="565.01"/><use href="#mG12" x="524.35" y="557.99"/><use href="#mG12" x="539.91" y="550.75"/><use href="#mG12" x="555.47" y="543.25"/><use href="#mG12" x="571.91" y="534.95"/><use href="#mG12" x="588.36" y="526.38"/><use href="#mG12" x="604.36" y="517.98"/><use href="#mG12" x="619.48" y="509.96"/><use href="#mG12" x="635.03" y="501.56"/><use href="#mG12" x="650.15" y="493.16"/><use href="#mG12" x="665.7" y="484.19"/><use href="#mG12" x="680.82" y="475.56"/><use href="#mG12" x="695.93" y="467.36"/><use href="#mG12" x="711.04" y="459.43"/><use href="#mG12" x="726.15" y="451.71"/><use href="#mG12" x="740.82" y="444.39"/><use href="#mG12" x="755.94" y="437.11"/><use href="#mG12" x="770.61" y="430.43"/><use href="#mG12" x="785.27" y="423.95"/><use href="#mG12" x="799.94" y="417.61"/><use href="#mG12" x="814.61" y="414.12"/><use href="#mG12" x="829.28" y="409.15"/><use href="#mG12" x="843.5" y="405.89"/><use href="#mG12" x="858.17" y="402.73"/><use href="#mG12" x="873.28" y="399.49"/><use href="#mG12" x="887.51" y="396.53"/><use href="#mG12" x="901.73" y="393.39"/><use href="#mG12" x="908.4" y="392.45"/>
<path stroke="#DC38F8" d="M108.3 624.5 L112 624.46 L115.71 624.43 L119.41 624.4 L123.12 624.37 L126.82 624.34 L130.53 624.31 L134.23 624.29 L137.93 624.27 L141.64 624.25 L145.34 624.24 L149.05 624.23 L152.75 624.22 L156.45 624.2 L160.16 624.19 L163.86 624.17 L167.57 624.16 L171.27 624.14 L174.98 624.11 L178.68 624.09 L182.38 624.06 L186.09 624.03 L189.79 624 L193.5 623.96 L197.2 623.92 L200.9 623.86 L204.61 623.79 L208.31 623.71 L212.02 623.62 L215.72 623.53 L219.43 623.42 L223.13 623.32 L226.83 623.21 L230.54 623.1 L234.24 622.97 L237.95 622.84 L241.65 622.7 L245.35 622.55 L249.06 622.39 L252.76 622.22 L256.47 622.03 L260.17 621.82 L263.88 621.6 L267.58 621.35 L271.28 621.09 L274.99 620.81 L278.69 620.52 L282.4 620.22 L286.1 619.91 L289.8 619.57 L293.51 619.21 L297.21 618.84 L300.92 618.44 L304.62 618.03 L308.32 617.62 L312.03 617.19 L315.73 616.75 L319.44 616.3 L323.14 615.84 L326.85 615.35 L330.55 614.86 L334.25 614.34 L337.96 613.8 L341.66 613.23 L345.37 612.64 L349.07 612.01 L352.78 611.34 L356.48 610.65 L360.18 609.93 L363.89 609.19 L367.59 608.44 L371.3 607.68 L375 606.91 L378.7 606.13 L382.41 605.32 L386.11 604.49 L389.82 603.65 L393.52 602.78 L397.23 601.89 L400.93 600.98 L404.63 600.04 L408.34 599.07 L412.04 598.07 L415.75 597.05 L419.45 596 L423.15 594.94 L426.86 593.85 L430.56 592.75 L434.27 591.62 L437.97 590.46 L441.68 589.28 L445.38 588.08 L449.08 586.85 L452.79 585.61 L456.49 584.36 L460.2 583.11 L463.9 581.85 L467.6 580.58 L471.31 579.31 L475.01 578.01 L478.72 576.69 L482.42 575.33 L486.13 573.94 L489.83 572.5 L493.53 571 L497.24 569.43 L500.94 567.81 L504.65 566.16 L508.35 564.48 L512.05 562.79 L515.76 561.1 L519.46 559.42 L523.17 557.75 L526.87 556.07 L530.58 554.38 L534.28 552.68 L537.98 550.97 L541.69 549.23 L545.39 547.46 L549.1 545.67 L552.8 543.84 L556.5 541.97 L560.21 540.08 L563.91 538.16 L567.62 536.24 L571.32 534.31 L575.02 532.38 L578.73 530.46 L582.43 528.54 L586.14 526.61 L589.84 524.68 L593.55 522.74 L597.25 520.8 L600.95 518.84 L604.66 516.88 L608.36 514.92 L612.07 512.95 L615.77 510.97 L619.48 508.99 L623.18 506.99 L626.88 504.99 L630.59 502.97 L634.29 500.92 L638 498.86 L641.7 496.78 L645.4 494.67 L649.11 492.55 L652.81 490.42 L656.52 488.28 L660.22 486.14 L663.92 484 L667.63 481.84 L671.33 479.65 L675.04 477.46 L678.74 475.27 L682.45 473.08 L686.15 470.93 L689.85 468.8 L693.56 466.72 L697.26 464.65 L700.97 462.61 L704.67 460.58 L708.38 458.58 L712.08 456.61 L715.78 454.66 L719.49 452.74 L723.19 450.82 L726.9 448.9 L730.6 447 L734.3 445.13 L738.01 443.33 L741.71 441.6 L745.42 439.96 L749.12 438.43 L752.83 436.96 L756.53 435.55 L760.23 434.19 L763.94 432.88 L767.64 431.6 L771.35 430.35 L775.05 429.13 L778.75 427.93 L782.46 426.76 L786.16 425.62 L789.87 424.52 L793.57 423.45 L797.27 422.41 L800.98 421.42 L804.68 420.47 L808.39 419.56 L812.09 418.68 L815.8 417.81 L819.5 416.95 L823.2 416.08 L826.91 415.19 L830.61 414.26 L834.32 413.32 L838.02 412.36 L841.73 411.42 L845.43 410.5 L849.13 409.63 L852.84 408.82 L856.54 408.07 L860.25 407.36 L863.95 406.68 L867.65 406.02 L871.36 405.38 L875.06 404.75 L878.77 404.13 L882.47 403.5 L886.17 402.86 L889.88 402.2 L893.58 401.57 L897.29 400.96 L900.99 400.41 L904.7 399.94 L908.4 399.56"/>
<use href="#mG13" x="108.3" y="624.5"/><use href="#mG13" x="137.41" y="624.27"/><use href="#mG13" x="166.53" y="624.16"/><use href="#mG13" x="195.87" y="623.94"/><use href="#mG13" x="225.2" y="623.26"/><use href="#mG13" x="254.54" y="622.13"/><use href="#mG13" x="283.88" y="620.1"/><use href="#mG13" x="313.21" y="617.05"/><use href="#mG13" x="342.55" y="613.1"/><use href="#mG13" x="371.89" y="607.56"/><use href="#mG13" x="400.78" y="601.01"/><use href="#mG13" x="430.12" y="592.88"/><use href="#mG13" x="459.01" y="583.51"/><use href="#mG13" x="489.68" y="572.56"/><use href="#mG13" x="518.13" y="560.02"/><use href="#mG13" x="547.91" y="546.25"/><use href="#mG13" x="577.25" y="531.23"/><use href="#mG13" x="606.14" y="516.1"/><use href="#mG13" x="635.03" y="500.51"/><use href="#mG13" x="663.48" y="484.25"/><use href="#mG13" x="691.48" y="467.88"/><use href="#mG13" x="718.6" y="453.2"/><use href="#mG13" x="746.16" y="439.65"/><use href="#mG13" x="773.27" y="429.71"/><use href="#mG13" x="799.5" y="421.81"/><use href="#mG13" x="826.61" y="415.26"/><use href="#mG13" x="852.84" y="408.82"/><use href="#mG13" x="880.4" y="403.85"/><use href="#mG13" x="907.07" y="399.68"/>
</g>
<g stroke="#0000ff" stroke-width="2.6">
<line x1="331.1" y1="569.3" x2="331.1" y2="681" stroke-dasharray="7 4.9" stroke-dashoffset="3.2"/>
<line x1="893.5" y1="38.8" x2="893.5" y2="681" stroke-dasharray="7 4.89"/>
</g>
<g stroke="#000" stroke-width="2.5" fill="none" stroke-linecap="round">
<rect x="108.3" y="3.44" width="844.55" height="677.56" stroke-linecap="butt" stroke-linejoin="miter"/>
<path d="M108.3 680.96 H102.3 M108.3 624.5 H96.3 M108.3 568.04 H102.3 M108.3 511.58 H96.3 M108.3 455.12 H102.3 M108.3 398.66 H96.3 M108.3 342.2 H102.3 M108.3 285.74 H96.3 M108.3 229.28 H102.3 M108.3 172.82 H96.3 M108.3 116.36 H102.3 M108.3 59.9 H96.3 M108.3 3.44 H102.3 M108.3 681 V693 M152.75 681 V687 M197.2 681 V693 M241.65 681 V687 M286.1 681 V693 M330.55 681 V687 M375 681 V693 M419.45 681 V687 M463.9 681 V693 M508.35 681 V687 M552.8 681 V693 M597.25 681 V687 M641.7 681 V693 M686.15 681 V687 M730.6 681 V693 M775.05 681 V687 M819.5 681 V693 M863.95 681 V687 M908.4 681 V693 M952.85 681 V687 "/>
</g>
<text transform="translate(85.8 633.5) scale(1 1.035)" font-size="29" text-anchor="end">300</text><text transform="translate(85.8 520.58) scale(1 1.035)" font-size="29" text-anchor="end">400</text><text transform="translate(85.8 407.66) scale(1 1.035)" font-size="29" text-anchor="end">500</text><text transform="translate(85.8 294.74) scale(1 1.035)" font-size="29" text-anchor="end">600</text><text transform="translate(85.8 181.82) scale(1 1.035)" font-size="29" text-anchor="end">700</text><text transform="translate(85.8 68.9) scale(1 1.035)" font-size="29" text-anchor="end">800</text><text transform="translate(108.9 726.3) scale(1 1.035)" font-size="29" text-anchor="middle">0</text><text transform="translate(197.8 726.3) scale(1 1.035)" font-size="29" text-anchor="middle">2</text><text transform="translate(286.7 726.3) scale(1 1.035)" font-size="29" text-anchor="middle">4</text><text transform="translate(375.6 726.3) scale(1 1.035)" font-size="29" text-anchor="middle">6</text><text transform="translate(464.5 726.3) scale(1 1.035)" font-size="29" text-anchor="middle">8</text><text transform="translate(553.4 726.3) scale(1 1.035)" font-size="29" text-anchor="middle">10</text><text transform="translate(642.3 726.3) scale(1 1.035)" font-size="29" text-anchor="middle">12</text><text transform="translate(731.2 726.3) scale(1 1.035)" font-size="29" text-anchor="middle">14</text><text transform="translate(820.1 726.3) scale(1 1.035)" font-size="29" text-anchor="middle">16</text><text transform="translate(909 726.3) scale(1 1.035)" font-size="29" text-anchor="middle">18</text>
<text transform="translate(531.3 781.2) scale(1 1.02)" font-size="35.5" text-anchor="middle">Time (ms)</text>
<text transform="translate(28 341.7) rotate(-90) scale(1 1.02)" text-anchor="middle" font-size="35.6">Temperature (K)</text>
<text transform="translate(795 51.2) scale(1 1.035)" font-size="29">17.7ms</text>
<text transform="translate(298.8 566.1) scale(1 1.035)" font-size="29">5.0ms</text>
<path d="M160.2 35.1 H224.9" stroke="#000000" stroke-width="2.6" stroke-linecap="round"/><use href="#mG1" x="192.4" y="35.1"/><text transform="translate(232.3 44.7) scale(1 1.035)" font-size="29">G1</text>
<path d="M160.2 70.94 H224.9" stroke="#EF3E3E" stroke-width="2.6" stroke-linecap="round"/><use href="#mG2" x="192.4" y="70.94"/><text transform="translate(232.3 80.54) scale(1 1.035)" font-size="29">G2</text>
<path d="M160.2 106.78 H224.9" stroke="#1A6FDF" stroke-width="2.6" stroke-linecap="round"/><use href="#mG3" x="192.4" y="106.78"/><text transform="translate(232.3 116.38) scale(1 1.035)" font-size="29">G3</text>
<path d="M160.2 142.62 H224.9" stroke="#37AD6B" stroke-width="2.6" stroke-linecap="round"/><use href="#mG4" x="192.4" y="142.62"/><text transform="translate(232.3 152.22) scale(1 1.035)" font-size="29">G4</text>
<path d="M160.2 178.46 H224.9" stroke="#B177DE" stroke-width="2.6" stroke-linecap="round"/><use href="#mG5" x="192.4" y="178.46"/><text transform="translate(232.3 188.06) scale(1 1.035)" font-size="29">G5</text>
<path d="M160.2 214.3 H224.9" stroke="#CC9900" stroke-width="2.6" stroke-linecap="round"/><use href="#mG6" x="192.4" y="214.3"/><text transform="translate(232.3 223.9) scale(1 1.035)" font-size="29">G6</text>
<path d="M160.2 250.14 H224.9" stroke="#00CBCC" stroke-width="2.6" stroke-linecap="round"/><use href="#mG7" x="192.4" y="250.14"/><text transform="translate(232.3 259.74) scale(1 1.035)" font-size="29">G7</text>
<path d="M160.2 285.98 H224.9" stroke="#7D4E4E" stroke-width="2.6" stroke-linecap="round"/><use href="#mG8" x="192.4" y="285.98"/><text transform="translate(232.3 295.58) scale(1 1.035)" font-size="29">G8</text>
<path d="M160.2 321.82 H224.9" stroke="#8E8E00" stroke-width="2.6" stroke-linecap="round"/><use href="#mG9" x="192.4" y="321.82"/><text transform="translate(232.3 331.42) scale(1 1.035)" font-size="29">G9</text>
<path d="M160.2 357.66 H224.9" stroke="#FB6501" stroke-width="2.6" stroke-linecap="round"/><use href="#mG10" x="192.4" y="357.66"/><text transform="translate(232.3 367.26) scale(1 1.035)" font-size="29">G10</text>
<path d="M160.2 393.5 H224.9" stroke="#6699CC" stroke-width="2.6" stroke-linecap="round"/><use href="#mG11" x="192.4" y="393.5"/><text transform="translate(232.3 403.1) scale(1 1.035)" font-size="29">G11</text>
<path d="M160.2 429.34 H224.9" stroke="#6FB802" stroke-width="2.6" stroke-linecap="round"/><use href="#mG12" x="192.4" y="429.34"/><text transform="translate(232.3 438.94) scale(1 1.035)" font-size="29">G12</text>
<path d="M160.2 465.18 H224.9" stroke="#DC38F8" stroke-width="2.6" stroke-linecap="round"/><use href="#mG13" x="192.4" y="465.18"/><text transform="translate(232.3 474.78) scale(1 1.035)" font-size="29">G13</text>
</svg></body></html>
